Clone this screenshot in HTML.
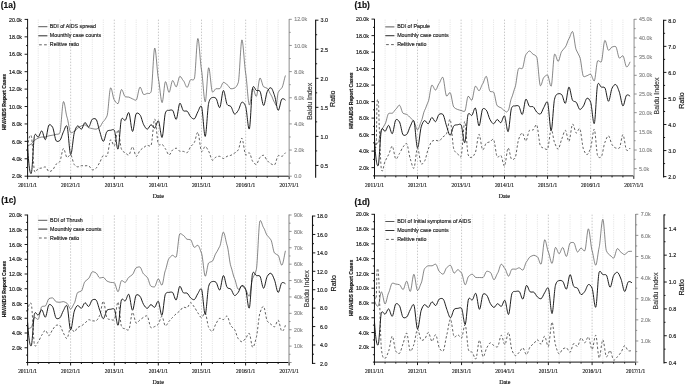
<!DOCTYPE html><html><head><meta charset="utf-8"><style>html,body{margin:0;padding:0;background:#fff}svg{display:block;filter:grayscale(1)}text{font-family:"Liberation Sans",sans-serif;stroke-width:0.16px}text.s{font-family:"Liberation Serif",serif}</style></head><body>
<svg width="685" height="385" viewBox="0 0 685 385">
<rect width="685" height="385" fill="#fff"/>
<line x1="38.22" y1="19.60" x2="38.22" y2="176.20" stroke="#d4d4d4" stroke-width="0.60" stroke-dasharray="1.1 1.1"/>
<line x1="48.95" y1="19.60" x2="48.95" y2="176.20" stroke="#d4d4d4" stroke-width="0.60" stroke-dasharray="1.1 1.1"/>
<line x1="59.80" y1="19.60" x2="59.80" y2="176.20" stroke="#d4d4d4" stroke-width="0.60" stroke-dasharray="1.1 1.1"/>
<line x1="70.65" y1="19.60" x2="70.65" y2="176.20" stroke="#b2b2b2" stroke-width="0.70" stroke-dasharray="1.5 1.5"/>
<line x1="81.41" y1="19.60" x2="81.41" y2="176.20" stroke="#d4d4d4" stroke-width="0.60" stroke-dasharray="1.1 1.1"/>
<line x1="92.30" y1="19.60" x2="92.30" y2="176.20" stroke="#d4d4d4" stroke-width="0.60" stroke-dasharray="1.1 1.1"/>
<line x1="103.30" y1="19.60" x2="103.30" y2="176.20" stroke="#d4d4d4" stroke-width="0.60" stroke-dasharray="1.1 1.1"/>
<line x1="114.30" y1="19.60" x2="114.30" y2="176.20" stroke="#b2b2b2" stroke-width="0.70" stroke-dasharray="1.5 1.5"/>
<line x1="125.19" y1="19.60" x2="125.19" y2="176.20" stroke="#d4d4d4" stroke-width="0.60" stroke-dasharray="1.1 1.1"/>
<line x1="136.19" y1="19.60" x2="136.19" y2="176.20" stroke="#d4d4d4" stroke-width="0.60" stroke-dasharray="1.1 1.1"/>
<line x1="147.32" y1="19.60" x2="147.32" y2="176.20" stroke="#d4d4d4" stroke-width="0.60" stroke-dasharray="1.1 1.1"/>
<line x1="158.45" y1="19.60" x2="158.45" y2="176.20" stroke="#b2b2b2" stroke-width="0.70" stroke-dasharray="1.5 1.5"/>
<line x1="169.07" y1="19.60" x2="169.07" y2="176.20" stroke="#d4d4d4" stroke-width="0.60" stroke-dasharray="1.1 1.1"/>
<line x1="179.80" y1="19.60" x2="179.80" y2="176.20" stroke="#d4d4d4" stroke-width="0.60" stroke-dasharray="1.1 1.1"/>
<line x1="190.65" y1="19.60" x2="190.65" y2="176.20" stroke="#d4d4d4" stroke-width="0.60" stroke-dasharray="1.1 1.1"/>
<line x1="201.50" y1="19.60" x2="201.50" y2="176.20" stroke="#b2b2b2" stroke-width="0.70" stroke-dasharray="1.5 1.5"/>
<line x1="212.39" y1="19.60" x2="212.39" y2="176.20" stroke="#d4d4d4" stroke-width="0.60" stroke-dasharray="1.1 1.1"/>
<line x1="223.39" y1="19.60" x2="223.39" y2="176.20" stroke="#d4d4d4" stroke-width="0.60" stroke-dasharray="1.1 1.1"/>
<line x1="234.52" y1="19.60" x2="234.52" y2="176.20" stroke="#d4d4d4" stroke-width="0.60" stroke-dasharray="1.1 1.1"/>
<line x1="245.65" y1="19.60" x2="245.65" y2="176.20" stroke="#b2b2b2" stroke-width="0.70" stroke-dasharray="1.5 1.5"/>
<line x1="256.38" y1="19.60" x2="256.38" y2="176.20" stroke="#d4d4d4" stroke-width="0.60" stroke-dasharray="1.1 1.1"/>
<line x1="267.22" y1="19.60" x2="267.22" y2="176.20" stroke="#d4d4d4" stroke-width="0.60" stroke-dasharray="1.1 1.1"/>
<line x1="278.19" y1="19.60" x2="278.19" y2="176.20" stroke="#d4d4d4" stroke-width="0.60" stroke-dasharray="1.1 1.1"/>
<path d="M27.60 147.00C28.82 137.48 30.04 133.63 31.26 135.80C32.36 137.76 33.46 168.82 34.56 171.30C35.78 174.04 37.00 168.98 38.22 168.60C39.39 168.24 40.57 168.22 41.75 168.00C42.97 167.78 44.19 166.73 45.41 167.00C46.59 167.26 47.77 171.28 48.95 171.50C50.17 171.73 51.39 170.86 52.60 170.00C53.82 169.14 55.04 165.21 56.26 164.10C57.44 163.03 58.62 163.25 59.80 161.60C61.02 159.89 62.24 148.74 63.46 148.50C64.63 148.26 65.81 157.03 66.99 157.50C68.21 157.98 69.43 154.31 70.65 154.80C71.89 155.30 73.12 163.30 74.36 164.70C75.47 165.96 76.59 166.81 77.71 166.90C78.94 167.00 80.18 165.78 81.41 165.70C82.61 165.63 83.80 165.79 85.00 165.80C86.24 165.81 87.47 165.49 88.71 165.80C89.90 166.10 91.10 169.71 92.30 169.90C93.53 170.09 94.77 169.18 96.00 168.30C97.24 167.42 98.47 164.34 99.71 162.50C100.91 160.72 102.10 155.97 103.30 155.50C104.53 155.01 105.77 157.17 107.01 156.00C108.20 154.87 109.40 140.56 110.59 139.80C111.83 139.01 113.06 146.48 114.30 145.80C115.55 145.11 116.80 129.39 118.05 129.90C119.18 130.36 120.31 146.63 121.44 149.10C122.69 151.83 123.94 151.98 125.19 152.80C126.40 153.59 127.61 155.39 128.82 155.00C130.06 154.60 131.31 146.76 132.56 146.90C133.77 147.04 134.98 156.11 136.19 156.40C137.44 156.70 138.69 151.80 139.94 150.60C141.19 149.40 142.44 148.25 143.69 147.50C144.90 146.77 146.11 145.46 147.32 145.30C148.57 145.14 149.82 147.26 151.07 145.30C152.28 143.41 153.49 119.19 154.70 119.00C155.95 118.80 157.20 142.37 158.45 144.20C159.67 145.99 160.89 143.97 162.11 144.40C163.21 144.79 164.31 147.40 165.41 148.80C166.63 150.35 167.85 154.94 169.07 155.00C170.24 155.06 171.42 150.85 172.60 150.00C173.82 149.12 175.04 148.10 176.26 148.20C177.44 148.29 178.62 150.92 179.80 151.20C181.02 151.49 182.24 151.24 183.45 151.40C184.67 151.56 185.89 153.06 187.11 152.70C188.29 152.36 189.47 148.10 190.65 146.70C191.87 145.25 193.09 144.40 194.31 142.50C195.48 140.66 196.66 131.75 197.84 132.30C199.06 132.87 200.28 150.36 201.50 151.40C202.75 152.46 204.00 146.44 205.25 146.50C206.38 146.55 207.51 149.46 208.64 151.20C209.89 153.12 211.14 159.81 212.39 160.20C213.60 160.58 214.81 157.44 216.02 157.00C217.26 156.55 218.51 156.19 219.76 156.30C220.97 156.41 222.18 158.49 223.39 158.50C224.64 158.51 225.89 156.72 227.14 156.30C228.39 155.88 229.64 155.73 230.89 155.30C232.10 154.88 233.31 153.84 234.52 153.10C235.77 152.34 237.02 151.71 238.27 149.90C239.48 148.15 240.69 137.92 241.90 138.20C243.15 138.49 244.40 153.78 245.65 154.80C246.88 155.81 248.11 152.23 249.34 152.80C250.46 153.32 251.57 159.99 252.68 161.40C253.91 162.96 255.14 164.71 256.38 164.40C257.57 164.10 258.76 158.49 259.95 157.40C261.18 156.27 262.41 155.05 263.65 155.30C264.84 155.54 266.03 159.45 267.22 160.60C268.45 161.79 269.68 163.29 270.92 163.80C272.15 164.31 273.38 165.41 274.61 164.80C275.80 164.21 276.99 156.31 278.19 155.70C279.42 155.06 280.65 156.53 281.88 156.30C283.07 156.08 284.26 154.30 285.46 152.70" fill="none" stroke="#3e3e3e" stroke-width="0.82" stroke-dasharray="2.3 2" stroke-linejoin="round"/>
<path d="M27.60 145.80C28.82 145.68 30.04 144.55 31.26 144.00C32.36 143.50 33.46 140.85 34.56 140.30C35.78 139.69 37.00 138.42 38.22 138.10C39.39 137.79 40.57 137.06 41.75 137.00C42.97 136.94 44.19 137.06 45.41 137.00C46.59 136.94 47.77 135.97 48.95 135.80C50.17 135.63 51.39 135.35 52.60 135.20C53.82 135.05 55.04 134.52 56.26 134.30C57.44 134.09 58.62 134.81 59.80 133.00C61.02 131.13 62.24 102.33 63.46 101.60C64.63 100.89 65.81 114.06 66.99 117.10C68.21 120.24 69.43 131.78 70.65 132.50C71.89 133.23 73.12 131.81 74.36 131.40C75.47 131.03 76.59 128.62 77.71 128.10C78.94 127.53 80.18 126.22 81.41 125.90C82.61 125.59 83.80 124.72 85.00 124.80C86.24 124.88 87.47 127.37 88.71 127.70C89.90 128.02 91.10 128.46 92.30 128.60C93.53 128.75 94.77 129.28 96.00 129.20C97.24 129.12 98.47 127.71 99.71 127.00C100.91 126.31 102.10 122.58 103.30 121.50C104.53 120.38 105.77 118.67 107.01 116.00C108.20 113.41 109.40 88.75 110.59 87.90C111.83 87.02 113.06 98.66 114.30 100.00C115.55 101.35 116.80 104.24 118.05 103.60C119.18 103.02 120.31 90.03 121.44 89.60C122.69 89.12 123.94 96.25 125.19 96.70C126.40 97.13 127.61 96.93 128.82 97.10C130.06 97.28 131.31 98.60 132.56 98.90C133.77 99.19 134.98 100.65 136.19 100.10C137.44 99.53 138.69 87.48 139.94 87.20C141.19 86.92 142.44 94.20 143.69 94.50C144.90 94.79 146.11 93.66 147.32 93.40C148.57 93.13 149.82 94.48 151.07 91.80C152.28 89.20 153.49 48.85 154.70 48.10C155.95 47.32 157.20 73.54 158.45 79.00C159.67 84.33 160.89 102.70 162.11 102.60C163.21 102.51 164.31 82.34 165.41 81.70C166.63 80.99 167.85 92.39 169.07 92.30C170.24 92.21 171.42 80.90 172.60 80.60C173.82 80.29 175.04 87.04 176.26 86.80C177.44 86.57 178.62 76.72 179.80 76.40C181.02 76.07 182.24 79.72 183.45 80.80C184.67 81.88 185.89 87.48 187.11 87.40C188.29 87.32 189.47 80.29 190.65 79.70C191.87 79.09 193.09 81.14 194.31 78.80C195.48 76.54 196.66 39.05 197.84 38.50C199.06 37.93 200.28 63.75 201.50 70.00C202.75 76.41 204.00 102.27 205.25 101.80C206.38 101.38 207.51 68.55 208.64 67.80C209.89 66.97 211.14 90.88 212.39 91.90C213.60 92.88 214.81 88.86 216.02 88.70C217.26 88.53 218.51 89.03 219.76 88.70C220.97 88.38 222.18 82.62 223.39 82.40C224.64 82.18 225.89 83.99 227.14 84.60C228.39 85.21 229.64 88.64 230.89 88.80C232.10 88.96 233.31 88.44 234.52 88.00C235.77 87.55 237.02 86.07 238.27 82.60C239.48 79.24 240.69 40.49 241.90 39.90C243.15 39.29 244.40 66.54 245.65 73.10C246.88 79.56 248.11 104.45 249.34 105.00C250.46 105.50 251.57 88.93 252.68 88.40C253.91 87.81 255.14 96.87 256.38 96.30C257.57 95.75 258.76 78.61 259.95 78.10C261.18 77.57 262.41 86.03 263.65 86.80C264.84 87.54 266.03 87.67 267.22 88.30C268.45 88.95 269.68 93.38 270.92 94.80C272.15 96.22 273.38 101.22 274.61 102.60C275.15 103.20 275.68 105.72 276.22 105.40C276.87 105.01 277.53 93.88 278.19 92.50C279.42 89.91 280.65 89.37 281.88 87.80C283.07 86.29 284.26 78.72 285.46 75.50" fill="none" stroke="#484848" stroke-width="0.66" stroke-linejoin="round"/>
<path d="M27.60 145.80C28.82 167.21 30.04 174.91 31.26 173.41C32.36 172.06 33.46 138.64 34.56 135.44C35.78 131.89 37.00 137.59 38.22 137.18C39.39 136.79 40.57 130.75 41.75 130.91C42.97 131.07 44.19 140.18 45.41 139.62C46.59 139.08 47.77 126.13 48.95 125.07C50.17 123.98 51.39 125.30 52.60 127.25C53.82 129.20 55.04 139.84 56.26 140.92C57.44 141.97 58.62 141.35 59.80 140.49C61.02 139.60 62.24 134.15 63.46 131.78C64.63 129.48 65.81 124.34 66.99 126.12C68.21 127.96 69.43 154.01 70.65 154.60C71.89 155.19 73.12 136.69 74.36 132.48C75.47 128.67 76.59 126.20 77.71 125.86C78.94 125.48 80.18 129.47 81.41 129.17C82.61 128.87 83.80 122.75 85.00 122.55C86.24 122.33 87.47 127.30 88.71 126.99C89.90 126.68 91.10 119.89 92.30 119.24C93.53 118.56 94.77 118.22 96.00 119.24C97.24 120.25 98.47 127.71 99.71 131.43C100.91 135.04 102.10 141.31 103.30 141.36C104.53 141.42 105.77 132.69 107.01 131.43C108.20 130.21 109.40 130.39 110.59 130.30C111.83 130.20 113.06 128.76 114.30 130.30C115.55 131.86 116.80 150.52 118.05 149.11C119.18 147.84 120.31 121.77 121.44 119.24C122.69 116.43 123.94 120.95 125.19 120.37C126.40 119.80 127.61 111.78 128.82 112.62C130.06 113.48 131.31 131.44 132.56 131.43C133.77 131.42 134.98 115.08 136.19 113.66C137.44 112.20 138.69 113.53 139.94 114.79C141.19 116.06 142.44 122.48 143.69 124.72C144.90 126.90 146.11 129.14 147.32 129.17C148.57 129.19 149.82 124.80 151.07 124.72C152.28 124.65 153.49 128.32 154.70 128.03C155.95 127.74 157.20 120.05 158.45 120.89C159.67 121.71 160.89 138.51 162.11 137.44C163.21 136.47 164.31 115.92 165.41 112.88C166.63 109.52 167.85 110.56 169.07 110.35C170.24 110.15 171.42 109.64 172.60 110.35C173.82 111.09 175.04 119.99 176.26 119.32C177.44 118.68 178.62 104.06 179.80 103.30C181.02 102.51 182.24 109.99 183.45 110.79C184.67 111.59 185.89 110.56 187.11 111.22C188.29 111.86 189.47 115.66 190.65 116.80C191.87 117.97 193.09 119.33 194.31 118.89C195.48 118.46 196.66 113.84 197.84 111.83C199.06 109.75 200.28 104.57 201.50 106.52C202.75 108.52 204.00 137.24 205.25 136.40C206.38 135.63 207.51 108.12 208.64 103.30C209.89 97.96 211.14 97.94 212.39 97.55C213.60 97.17 214.81 97.36 216.02 98.42C217.26 99.52 218.51 108.31 219.76 107.57C220.97 106.84 222.18 90.83 223.39 90.49C224.64 90.14 225.89 102.49 227.14 104.43C228.39 106.37 229.64 105.14 230.89 106.52C232.10 107.85 233.31 113.67 234.52 114.01C235.77 114.37 237.02 112.21 238.27 110.35C239.48 108.55 240.69 102.60 241.90 102.25C243.15 101.89 244.40 103.06 245.65 106.52C246.88 109.93 248.11 131.12 249.34 128.90C250.46 126.90 251.57 91.20 252.68 87.79C253.91 84.02 255.14 90.02 256.38 90.49C257.57 90.95 258.76 89.78 259.95 91.19C261.18 92.65 262.41 105.52 263.65 105.47C264.84 105.43 266.03 94.08 267.22 91.63C268.45 89.09 269.68 87.44 270.92 87.79C272.15 88.15 273.38 92.21 274.61 95.89C275.80 99.46 276.99 110.03 278.19 110.35C279.42 110.69 280.65 99.86 281.88 99.03C283.07 98.23 284.26 99.03 285.46 100.16" fill="none" stroke="#111" stroke-width="0.95" stroke-linejoin="round"/>
<line x1="27.60" y1="18.90" x2="27.60" y2="176.70" stroke="#111" stroke-width="1.00"/>
<line x1="27.10" y1="176.20" x2="289.15" y2="176.20" stroke="#111" stroke-width="1.00"/>
<line x1="24.60" y1="176.20" x2="27.60" y2="176.20" stroke="#111" stroke-width="0.95"/>
<text transform="translate(22.00 178.35) scale(0.870 1)" text-anchor="end" font-size="6.10" fill="#111" stroke="#111">2.0k</text>
<line x1="26.10" y1="167.49" x2="27.60" y2="167.49" stroke="#111" stroke-width="0.95"/>
<line x1="24.60" y1="158.78" x2="27.60" y2="158.78" stroke="#111" stroke-width="0.95"/>
<text transform="translate(22.00 160.93) scale(0.870 1)" text-anchor="end" font-size="6.10" fill="#111" stroke="#111">4.0k</text>
<line x1="26.10" y1="150.07" x2="27.60" y2="150.07" stroke="#111" stroke-width="0.95"/>
<line x1="24.60" y1="141.36" x2="27.60" y2="141.36" stroke="#111" stroke-width="0.95"/>
<text transform="translate(22.00 143.51) scale(0.870 1)" text-anchor="end" font-size="6.10" fill="#111" stroke="#111">6.0k</text>
<line x1="26.10" y1="132.65" x2="27.60" y2="132.65" stroke="#111" stroke-width="0.95"/>
<line x1="24.60" y1="123.94" x2="27.60" y2="123.94" stroke="#111" stroke-width="0.95"/>
<text transform="translate(22.00 126.09) scale(0.870 1)" text-anchor="end" font-size="6.10" fill="#111" stroke="#111">8.0k</text>
<line x1="26.10" y1="115.23" x2="27.60" y2="115.23" stroke="#111" stroke-width="0.95"/>
<line x1="24.60" y1="106.52" x2="27.60" y2="106.52" stroke="#111" stroke-width="0.95"/>
<text transform="translate(22.00 108.67) scale(0.870 1)" text-anchor="end" font-size="6.10" fill="#111" stroke="#111">10.0k</text>
<line x1="26.10" y1="97.81" x2="27.60" y2="97.81" stroke="#111" stroke-width="0.95"/>
<line x1="24.60" y1="89.10" x2="27.60" y2="89.10" stroke="#111" stroke-width="0.95"/>
<text transform="translate(22.00 91.25) scale(0.870 1)" text-anchor="end" font-size="6.10" fill="#111" stroke="#111">12.0k</text>
<line x1="26.10" y1="80.39" x2="27.60" y2="80.39" stroke="#111" stroke-width="0.95"/>
<line x1="24.60" y1="71.68" x2="27.60" y2="71.68" stroke="#111" stroke-width="0.95"/>
<text transform="translate(22.00 73.83) scale(0.870 1)" text-anchor="end" font-size="6.10" fill="#111" stroke="#111">14.0k</text>
<line x1="26.10" y1="62.97" x2="27.60" y2="62.97" stroke="#111" stroke-width="0.95"/>
<line x1="24.60" y1="54.26" x2="27.60" y2="54.26" stroke="#111" stroke-width="0.95"/>
<text transform="translate(22.00 56.41) scale(0.870 1)" text-anchor="end" font-size="6.10" fill="#111" stroke="#111">16.0k</text>
<line x1="26.10" y1="45.55" x2="27.60" y2="45.55" stroke="#111" stroke-width="0.95"/>
<line x1="24.60" y1="36.84" x2="27.60" y2="36.84" stroke="#111" stroke-width="0.95"/>
<text transform="translate(22.00 38.99) scale(0.870 1)" text-anchor="end" font-size="6.10" fill="#111" stroke="#111">18.0k</text>
<line x1="26.10" y1="28.13" x2="27.60" y2="28.13" stroke="#111" stroke-width="0.95"/>
<line x1="24.60" y1="19.42" x2="27.60" y2="19.42" stroke="#111" stroke-width="0.95"/>
<text transform="translate(22.00 21.57) scale(0.870 1)" text-anchor="end" font-size="6.10" fill="#111" stroke="#111">20.0k</text>
<line x1="27.60" y1="176.20" x2="27.60" y2="179.20" stroke="#111" stroke-width="0.95"/>
<text transform="translate(27.60 187.10) scale(0.870 1)" text-anchor="middle" class="s" font-size="6.20" fill="#111" stroke="#111">2011/1/1</text>
<line x1="38.22" y1="176.20" x2="38.22" y2="177.70" stroke="#111" stroke-width="0.95"/>
<line x1="48.95" y1="176.20" x2="48.95" y2="177.70" stroke="#111" stroke-width="0.95"/>
<line x1="59.80" y1="176.20" x2="59.80" y2="177.70" stroke="#111" stroke-width="0.95"/>
<line x1="70.65" y1="176.20" x2="70.65" y2="179.20" stroke="#111" stroke-width="0.95"/>
<text transform="translate(70.65 187.10) scale(0.870 1)" text-anchor="middle" class="s" font-size="6.20" fill="#111" stroke="#111">2012/1/1</text>
<line x1="81.41" y1="176.20" x2="81.41" y2="177.70" stroke="#111" stroke-width="0.95"/>
<line x1="92.30" y1="176.20" x2="92.30" y2="177.70" stroke="#111" stroke-width="0.95"/>
<line x1="103.30" y1="176.20" x2="103.30" y2="177.70" stroke="#111" stroke-width="0.95"/>
<line x1="114.30" y1="176.20" x2="114.30" y2="179.20" stroke="#111" stroke-width="0.95"/>
<text transform="translate(114.30 187.10) scale(0.870 1)" text-anchor="middle" class="s" font-size="6.20" fill="#111" stroke="#111">2013/1/1</text>
<line x1="125.19" y1="176.20" x2="125.19" y2="177.70" stroke="#111" stroke-width="0.95"/>
<line x1="136.19" y1="176.20" x2="136.19" y2="177.70" stroke="#111" stroke-width="0.95"/>
<line x1="147.32" y1="176.20" x2="147.32" y2="177.70" stroke="#111" stroke-width="0.95"/>
<line x1="158.45" y1="176.20" x2="158.45" y2="179.20" stroke="#111" stroke-width="0.95"/>
<text transform="translate(158.45 187.10) scale(0.870 1)" text-anchor="middle" class="s" font-size="6.20" fill="#111" stroke="#111">2014/1/1</text>
<line x1="169.07" y1="176.20" x2="169.07" y2="177.70" stroke="#111" stroke-width="0.95"/>
<line x1="179.80" y1="176.20" x2="179.80" y2="177.70" stroke="#111" stroke-width="0.95"/>
<line x1="190.65" y1="176.20" x2="190.65" y2="177.70" stroke="#111" stroke-width="0.95"/>
<line x1="201.50" y1="176.20" x2="201.50" y2="179.20" stroke="#111" stroke-width="0.95"/>
<text transform="translate(201.50 187.10) scale(0.870 1)" text-anchor="middle" class="s" font-size="6.20" fill="#111" stroke="#111">2015/1/1</text>
<line x1="212.39" y1="176.20" x2="212.39" y2="177.70" stroke="#111" stroke-width="0.95"/>
<line x1="223.39" y1="176.20" x2="223.39" y2="177.70" stroke="#111" stroke-width="0.95"/>
<line x1="234.52" y1="176.20" x2="234.52" y2="177.70" stroke="#111" stroke-width="0.95"/>
<line x1="245.65" y1="176.20" x2="245.65" y2="179.20" stroke="#111" stroke-width="0.95"/>
<text transform="translate(245.65 187.10) scale(0.870 1)" text-anchor="middle" class="s" font-size="6.20" fill="#111" stroke="#111">2016/1/1</text>
<line x1="256.38" y1="176.20" x2="256.38" y2="177.70" stroke="#111" stroke-width="0.95"/>
<line x1="267.22" y1="176.20" x2="267.22" y2="177.70" stroke="#111" stroke-width="0.95"/>
<line x1="278.19" y1="176.20" x2="278.19" y2="177.70" stroke="#111" stroke-width="0.95"/>
<line x1="289.15" y1="176.20" x2="289.15" y2="179.20" stroke="#111" stroke-width="0.95"/>
<text transform="translate(289.15 187.10) scale(0.870 1)" text-anchor="middle" class="s" font-size="6.20" fill="#111" stroke="#111">2017/1/1</text>
<text x="158.30" y="198.40" text-anchor="middle" class="s" font-size="6.00" fill="#111" stroke="#111">Date</text>
<line x1="289.20" y1="18.90" x2="289.20" y2="176.60" stroke="#b4b4b4" stroke-width="1.50"/>
<line x1="289.20" y1="176.20" x2="291.80" y2="176.20" stroke="#777" stroke-width="0.80"/>
<text transform="translate(294.20 178.35) scale(0.870 1)" font-size="6.10" fill="#888" stroke="#888">0.0</text>
<line x1="289.20" y1="163.12" x2="290.70" y2="163.12" stroke="#777" stroke-width="0.80"/>
<line x1="289.20" y1="150.05" x2="291.80" y2="150.05" stroke="#777" stroke-width="0.80"/>
<text transform="translate(294.20 152.20) scale(0.870 1)" font-size="6.10" fill="#888" stroke="#888">2.0k</text>
<line x1="289.20" y1="136.97" x2="290.70" y2="136.97" stroke="#777" stroke-width="0.80"/>
<line x1="289.20" y1="123.90" x2="291.80" y2="123.90" stroke="#777" stroke-width="0.80"/>
<text transform="translate(294.20 126.05) scale(0.870 1)" font-size="6.10" fill="#888" stroke="#888">4.0k</text>
<line x1="289.20" y1="110.82" x2="290.70" y2="110.82" stroke="#777" stroke-width="0.80"/>
<line x1="289.20" y1="97.75" x2="291.80" y2="97.75" stroke="#777" stroke-width="0.80"/>
<text transform="translate(294.20 99.90) scale(0.870 1)" font-size="6.10" fill="#888" stroke="#888">6.0k</text>
<line x1="289.20" y1="84.67" x2="290.70" y2="84.67" stroke="#777" stroke-width="0.80"/>
<line x1="289.20" y1="71.60" x2="291.80" y2="71.60" stroke="#777" stroke-width="0.80"/>
<text transform="translate(294.20 73.75) scale(0.870 1)" font-size="6.10" fill="#888" stroke="#888">8.0k</text>
<line x1="289.20" y1="58.52" x2="290.70" y2="58.52" stroke="#777" stroke-width="0.80"/>
<line x1="289.20" y1="45.45" x2="291.80" y2="45.45" stroke="#777" stroke-width="0.80"/>
<text transform="translate(294.20 47.60) scale(0.870 1)" font-size="6.10" fill="#888" stroke="#888">10.0k</text>
<line x1="289.20" y1="32.38" x2="290.70" y2="32.38" stroke="#777" stroke-width="0.80"/>
<line x1="289.20" y1="19.30" x2="291.80" y2="19.30" stroke="#777" stroke-width="0.80"/>
<text transform="translate(294.20 21.45) scale(0.870 1)" font-size="6.10" fill="#888" stroke="#888">12.0k</text>
<line x1="315.65" y1="19.75" x2="315.65" y2="177.80" stroke="#111" stroke-width="1.10"/>
<line x1="315.65" y1="165.45" x2="318.45" y2="165.45" stroke="#111" stroke-width="0.95"/>
<text transform="translate(327.90 167.70) scale(0.870 1)" text-anchor="end" font-size="6.20" fill="#111" stroke="#111">0.5</text>
<line x1="315.65" y1="150.92" x2="317.15" y2="150.92" stroke="#111" stroke-width="0.95"/>
<line x1="315.65" y1="136.40" x2="318.45" y2="136.40" stroke="#111" stroke-width="0.95"/>
<text transform="translate(327.90 138.65) scale(0.870 1)" text-anchor="end" font-size="6.20" fill="#111" stroke="#111">1.0</text>
<line x1="315.65" y1="121.87" x2="317.15" y2="121.87" stroke="#111" stroke-width="0.95"/>
<line x1="315.65" y1="107.35" x2="318.45" y2="107.35" stroke="#111" stroke-width="0.95"/>
<text transform="translate(327.90 109.60) scale(0.870 1)" text-anchor="end" font-size="6.20" fill="#111" stroke="#111">1.5</text>
<line x1="315.65" y1="92.82" x2="317.15" y2="92.82" stroke="#111" stroke-width="0.95"/>
<line x1="315.65" y1="78.30" x2="318.45" y2="78.30" stroke="#111" stroke-width="0.95"/>
<text transform="translate(327.90 80.55) scale(0.870 1)" text-anchor="end" font-size="6.20" fill="#111" stroke="#111">2.0</text>
<line x1="315.65" y1="63.77" x2="317.15" y2="63.77" stroke="#111" stroke-width="0.95"/>
<line x1="315.65" y1="49.25" x2="318.45" y2="49.25" stroke="#111" stroke-width="0.95"/>
<text transform="translate(327.90 51.50) scale(0.870 1)" text-anchor="end" font-size="6.20" fill="#111" stroke="#111">2.5</text>
<line x1="315.65" y1="34.72" x2="317.15" y2="34.72" stroke="#111" stroke-width="0.95"/>
<line x1="315.65" y1="20.20" x2="318.45" y2="20.20" stroke="#111" stroke-width="0.95"/>
<text transform="translate(327.90 22.45) scale(0.870 1)" text-anchor="end" font-size="6.20" fill="#111" stroke="#111">3.0</text>
<text transform="translate(5.70 101.95) rotate(-90)" text-anchor="middle" font-weight="bold" font-size="5.10" fill="#111" stroke="#111">HIV/AIDS Report Cases</text>
<text transform="translate(311.70 101.35) rotate(-90)" text-anchor="middle" font-size="7.00" fill="#444" stroke="#444">Baidu Index</text>
<text transform="translate(335.40 98.75) rotate(-90)" text-anchor="middle" font-size="7.00" fill="#111" stroke="#111">Ratio</text>
<text x="0.80" y="8.00" font-weight="bold" font-size="8.40" fill="#111" stroke="#111">(1a)</text>
<line x1="38.30" y1="26.70" x2="47.40" y2="26.70" stroke="#484848" stroke-width="0.91"/>
<text x="49.80" y="28.25" font-size="5.32" fill="#222" stroke="#222">BDI of AIDS spread</text>
<line x1="38.30" y1="35.80" x2="47.40" y2="35.80" stroke="#333" stroke-width="1.05"/>
<text x="49.80" y="37.35" font-size="5.32" fill="#222" stroke="#222">Mounthly case counts</text>
<line x1="39.10" y1="44.80" x2="47.40" y2="44.80" stroke="#3e3e3e" stroke-width="0.82" stroke-dasharray="2.7 2.3"/>
<text x="49.80" y="46.35" font-size="5.32" fill="#222" stroke="#222">Relitive ratio</text>
<line x1="385.10" y1="19.60" x2="385.10" y2="175.90" stroke="#d4d4d4" stroke-width="0.60" stroke-dasharray="1.1 1.1"/>
<line x1="395.82" y1="19.60" x2="395.82" y2="175.90" stroke="#d4d4d4" stroke-width="0.60" stroke-dasharray="1.1 1.1"/>
<line x1="406.66" y1="19.60" x2="406.66" y2="175.90" stroke="#d4d4d4" stroke-width="0.60" stroke-dasharray="1.1 1.1"/>
<line x1="417.50" y1="19.60" x2="417.50" y2="175.90" stroke="#b2b2b2" stroke-width="0.70" stroke-dasharray="1.5 1.5"/>
<line x1="428.25" y1="19.60" x2="428.25" y2="175.90" stroke="#d4d4d4" stroke-width="0.60" stroke-dasharray="1.1 1.1"/>
<line x1="439.12" y1="19.60" x2="439.12" y2="175.90" stroke="#d4d4d4" stroke-width="0.60" stroke-dasharray="1.1 1.1"/>
<line x1="450.11" y1="19.60" x2="450.11" y2="175.90" stroke="#d4d4d4" stroke-width="0.60" stroke-dasharray="1.1 1.1"/>
<line x1="461.10" y1="19.60" x2="461.10" y2="175.90" stroke="#b2b2b2" stroke-width="0.70" stroke-dasharray="1.5 1.5"/>
<line x1="471.80" y1="19.60" x2="471.80" y2="175.90" stroke="#d4d4d4" stroke-width="0.60" stroke-dasharray="1.1 1.1"/>
<line x1="482.62" y1="19.60" x2="482.62" y2="175.90" stroke="#d4d4d4" stroke-width="0.60" stroke-dasharray="1.1 1.1"/>
<line x1="493.56" y1="19.60" x2="493.56" y2="175.90" stroke="#d4d4d4" stroke-width="0.60" stroke-dasharray="1.1 1.1"/>
<line x1="504.50" y1="19.60" x2="504.50" y2="175.90" stroke="#b2b2b2" stroke-width="0.70" stroke-dasharray="1.5 1.5"/>
<line x1="515.12" y1="19.60" x2="515.12" y2="175.90" stroke="#d4d4d4" stroke-width="0.60" stroke-dasharray="1.1 1.1"/>
<line x1="525.85" y1="19.60" x2="525.85" y2="175.90" stroke="#d4d4d4" stroke-width="0.60" stroke-dasharray="1.1 1.1"/>
<line x1="536.70" y1="19.60" x2="536.70" y2="175.90" stroke="#d4d4d4" stroke-width="0.60" stroke-dasharray="1.1 1.1"/>
<line x1="547.55" y1="19.60" x2="547.55" y2="175.90" stroke="#b2b2b2" stroke-width="0.70" stroke-dasharray="1.5 1.5"/>
<line x1="558.18" y1="19.60" x2="558.18" y2="175.90" stroke="#d4d4d4" stroke-width="0.60" stroke-dasharray="1.1 1.1"/>
<line x1="568.92" y1="19.60" x2="568.92" y2="175.90" stroke="#d4d4d4" stroke-width="0.60" stroke-dasharray="1.1 1.1"/>
<line x1="579.79" y1="19.60" x2="579.79" y2="175.90" stroke="#d4d4d4" stroke-width="0.60" stroke-dasharray="1.1 1.1"/>
<line x1="590.65" y1="19.60" x2="590.65" y2="175.90" stroke="#b2b2b2" stroke-width="0.70" stroke-dasharray="1.5 1.5"/>
<line x1="601.29" y1="19.60" x2="601.29" y2="175.90" stroke="#d4d4d4" stroke-width="0.60" stroke-dasharray="1.1 1.1"/>
<line x1="612.05" y1="19.60" x2="612.05" y2="175.90" stroke="#d4d4d4" stroke-width="0.60" stroke-dasharray="1.1 1.1"/>
<line x1="622.92" y1="19.60" x2="622.92" y2="175.90" stroke="#d4d4d4" stroke-width="0.60" stroke-dasharray="1.1 1.1"/>
<path d="M374.50 142.50C375.11 142.50 375.72 155.25 376.33 141.50C376.42 139.30 376.52 128.97 376.62 124.00C376.72 119.03 376.81 109.00 376.91 106.40C377.20 98.59 377.49 99.67 377.79 99.60C377.91 99.57 378.03 99.96 378.15 100.50C378.32 101.23 378.48 103.48 378.65 106.40C378.81 109.32 378.98 119.81 379.14 124.00C379.91 143.58 380.68 165.93 381.45 169.60C382.67 175.40 383.89 163.34 385.10 161.20C386.28 159.13 387.46 156.67 388.64 154.60C389.85 152.46 391.07 145.83 392.29 146.20C393.47 146.56 394.65 158.45 395.82 159.00C397.04 159.57 398.26 155.21 399.48 153.50C400.69 151.79 401.91 148.24 403.13 146.90C404.31 145.60 405.48 142.80 406.66 143.60C407.88 144.43 409.10 155.56 410.31 159.00C411.49 162.33 412.67 169.00 413.85 168.30C415.07 167.58 416.28 148.34 417.50 148.00C418.73 147.65 419.97 163.05 421.20 163.90C422.32 164.66 423.43 162.74 424.55 161.20C425.78 159.49 427.02 151.87 428.25 149.10C429.45 146.42 430.64 142.29 431.83 141.40C433.07 140.48 434.30 140.33 435.54 140.30C436.73 140.27 437.93 141.12 439.12 140.90C440.36 140.67 441.59 138.03 442.82 137.00C444.06 135.97 445.29 135.69 446.53 133.60C447.72 131.58 448.92 118.32 450.11 119.30C451.34 120.31 452.58 145.58 453.81 149.10C455.01 152.50 456.20 152.50 457.40 153.50C458.63 154.53 459.87 158.68 461.10 156.40C462.33 154.13 463.56 121.12 464.79 121.50C465.90 121.84 467.01 151.32 468.12 154.60C469.34 158.23 470.57 157.48 471.80 157.30C472.99 157.13 474.18 155.05 475.37 152.40C476.60 149.66 477.83 134.41 479.05 134.30C480.24 134.20 481.43 149.14 482.62 149.80C483.85 150.49 485.08 143.98 486.31 143.10C487.54 142.22 488.77 142.31 489.99 141.80C491.18 141.31 492.37 138.39 493.56 139.40C494.79 140.45 496.02 155.90 497.25 157.00C498.44 158.06 499.62 154.69 500.81 155.30C502.04 155.93 503.27 166.64 504.50 166.10C505.72 165.57 506.94 148.31 508.16 148.00C509.26 147.72 510.36 158.25 511.46 159.00C512.68 159.83 513.90 159.66 515.12 157.90C516.29 156.19 517.47 142.26 518.65 139.20C519.87 136.04 521.09 132.84 522.31 133.00C523.49 133.15 524.67 141.05 525.85 140.90C527.07 140.75 528.29 131.19 529.50 130.30C530.72 129.41 531.94 130.41 533.16 129.90C534.34 129.40 535.52 123.75 536.70 124.80C537.92 125.88 539.14 143.59 540.36 145.80C541.53 147.93 542.71 147.56 543.89 148.00C545.11 148.45 546.33 150.43 547.55 149.10C548.77 147.77 549.99 129.44 551.21 129.20C552.31 128.98 553.41 139.94 554.52 142.50C555.74 145.34 556.96 149.38 558.18 149.10C559.36 148.83 560.54 141.82 561.72 139.20C562.94 136.49 564.16 130.09 565.38 130.30C566.56 130.50 567.74 141.77 568.92 141.40C570.14 141.02 571.36 124.69 572.58 124.10C573.80 123.50 575.02 132.71 576.24 133.00C577.42 133.28 578.61 127.53 579.79 128.60C581.01 129.70 582.23 146.01 583.45 149.10C584.63 152.09 585.81 154.65 586.99 154.60C588.21 154.55 589.43 151.18 590.65 148.00C591.87 144.82 593.09 128.28 594.31 129.20C595.42 130.03 596.52 153.39 597.62 155.70C598.85 158.26 600.07 157.79 601.29 156.80C602.47 155.84 603.65 145.25 604.84 142.50C606.06 139.66 607.28 135.60 608.50 135.80C609.68 135.99 610.87 143.17 612.05 144.70C613.27 146.28 614.49 147.77 615.71 148.00C616.93 148.23 618.16 148.99 619.38 148.00C620.56 147.04 621.74 134.61 622.92 134.70C624.15 134.79 625.37 149.28 626.59 150.20C627.77 151.09 628.95 149.87 630.14 148.00" fill="none" stroke="#3e3e3e" stroke-width="0.82" stroke-dasharray="2.3 2" stroke-linejoin="round"/>
<path d="M374.50 144.70C375.72 144.70 376.93 143.70 378.15 142.50C379.25 141.42 380.35 131.99 381.45 130.30C382.67 128.43 383.89 125.66 385.10 124.00C386.28 122.39 387.46 114.10 388.64 113.50C389.85 112.88 391.07 113.48 392.29 113.20C393.47 112.93 394.65 109.99 395.82 109.20C397.04 108.39 398.26 105.00 399.48 105.20C400.69 105.41 401.91 112.65 403.13 113.30C404.31 113.93 405.48 114.03 406.66 114.40C407.88 114.78 409.10 116.88 410.31 117.60C411.49 118.30 412.67 120.38 413.85 121.50C415.07 122.66 416.28 129.89 417.50 129.90C418.73 129.91 419.97 123.54 421.20 121.50C422.32 119.66 423.43 112.39 424.55 110.50C425.78 108.41 427.02 104.07 428.25 101.60C429.45 99.21 430.64 85.80 431.83 85.20C433.07 84.58 434.30 90.21 435.54 90.10C436.73 89.99 437.93 84.66 439.12 83.40C440.36 82.10 441.59 76.67 442.82 77.30C444.06 77.93 445.29 95.26 446.53 96.00C447.72 96.72 448.92 92.08 450.11 92.60C451.34 93.13 452.58 105.86 453.81 107.10C455.01 108.30 456.20 109.08 457.40 109.40C458.63 109.73 459.87 110.32 461.10 110.50C462.33 110.68 463.56 112.03 464.79 111.20C465.90 110.45 467.01 96.92 468.12 96.30C469.34 95.62 470.57 100.74 471.80 100.20C472.99 99.67 474.18 86.70 475.37 86.20C476.60 85.69 477.83 90.84 479.05 90.70C480.24 90.57 481.43 85.30 482.62 83.90C483.85 82.45 485.08 76.03 486.31 76.40C487.54 76.77 488.77 90.37 489.99 91.30C491.18 92.20 492.37 91.26 493.56 92.10C494.79 92.97 496.02 104.68 497.25 105.80C498.44 106.88 499.62 107.23 500.81 107.70C502.04 108.18 503.27 110.20 504.50 110.70C505.23 111.00 505.96 112.07 506.69 112.00C507.18 111.95 507.67 111.07 508.16 110.60C509.26 109.53 510.36 100.43 511.46 98.20C512.68 95.73 513.90 90.13 515.12 87.20C516.29 84.37 517.47 69.45 518.65 68.50C519.87 67.52 521.09 69.22 522.31 68.50C523.49 67.80 524.67 56.15 525.85 54.70C527.07 53.20 528.29 51.02 529.50 51.00C530.72 50.98 531.94 53.69 533.16 54.30C534.34 54.89 535.52 55.01 536.70 57.00C537.92 59.06 539.14 84.73 540.36 85.70C541.53 86.64 542.71 78.17 543.89 77.30C545.11 76.40 546.33 74.66 547.55 75.10C548.77 75.54 549.99 87.43 551.21 86.10C552.31 84.90 553.41 55.67 554.52 54.30C555.74 52.79 556.96 61.58 558.18 61.40C559.36 61.23 560.54 52.72 561.72 51.40C562.94 50.04 564.16 48.23 565.38 47.00C566.56 45.81 567.74 40.31 568.92 38.80C570.14 37.24 571.36 31.05 572.58 31.60C573.80 32.16 575.02 47.58 576.24 49.90C577.42 52.14 578.61 54.69 579.79 57.00C581.01 59.39 582.23 75.48 583.45 76.40C584.63 77.29 585.81 75.90 586.99 75.70C588.21 75.49 589.43 73.95 590.65 74.20C591.87 74.45 593.09 81.64 594.31 80.80C595.42 80.04 596.52 61.91 597.62 60.90C598.85 59.79 600.07 62.88 601.29 61.80C602.47 60.76 603.65 41.02 604.84 40.40C606.06 39.76 607.28 49.99 608.50 50.30C609.68 50.60 610.87 47.26 612.05 47.00C613.27 46.74 614.49 46.05 615.71 46.60C616.93 47.15 618.16 57.66 619.38 58.10C620.56 58.53 621.74 55.39 622.92 55.80C624.15 56.23 625.37 66.62 626.59 66.90C627.77 67.17 628.95 64.38 630.14 61.80" fill="none" stroke="#484848" stroke-width="0.66" stroke-linejoin="round"/>
<path d="M374.50 139.51C375.72 159.78 376.93 167.08 378.15 165.66C379.25 164.38 380.35 132.72 381.45 129.69C382.67 126.33 383.89 131.72 385.10 131.34C386.28 130.97 387.46 125.25 388.64 125.40C389.85 125.56 391.07 134.18 392.29 133.65C393.47 133.14 394.65 120.88 395.82 119.87C397.04 118.84 398.26 120.09 399.48 121.93C400.69 123.78 401.91 133.86 403.13 134.89C404.31 135.88 405.48 135.29 406.66 134.47C407.88 133.63 409.10 128.47 410.31 126.23C411.49 124.05 412.67 119.18 413.85 120.86C415.07 122.60 416.28 147.29 417.50 147.84C418.73 148.40 419.97 130.87 421.20 126.89C422.32 123.28 423.43 120.94 424.55 120.61C425.78 120.26 427.02 124.04 428.25 123.75C429.45 123.47 430.64 117.68 431.83 117.48C433.07 117.28 434.30 121.99 435.54 121.69C436.73 121.40 437.93 114.97 439.12 114.35C440.36 113.70 441.59 113.38 442.82 114.35C444.06 115.31 445.29 122.37 446.53 125.89C447.72 129.31 448.92 135.25 450.11 135.30C451.34 135.35 452.58 127.09 453.81 125.89C455.01 124.74 456.20 124.91 457.40 124.82C458.63 124.73 459.87 123.33 461.10 124.82C462.33 126.31 463.56 143.98 464.79 142.64C465.90 141.44 467.01 116.75 468.12 114.35C469.34 111.69 470.57 115.97 471.80 115.42C472.99 114.88 474.18 107.28 475.37 108.07C476.60 108.89 477.83 125.91 479.05 125.89C480.24 125.88 481.43 110.41 482.62 109.06C483.85 107.68 485.08 108.94 486.31 110.14C487.54 111.33 488.77 117.41 489.99 119.54C491.18 121.60 492.37 123.73 493.56 123.75C494.79 123.77 496.02 119.61 497.25 119.54C498.44 119.47 499.62 122.95 500.81 122.68C502.04 122.40 503.27 115.15 504.50 115.91C505.72 116.67 506.94 132.60 508.16 131.59C509.26 130.67 510.36 111.20 511.46 108.32C512.68 105.14 513.90 106.13 515.12 105.93C516.29 105.74 517.47 105.26 518.65 105.93C519.87 106.63 521.09 115.06 522.31 114.43C523.49 113.82 524.67 99.97 525.85 99.25C527.07 98.50 528.29 105.59 529.50 106.34C530.72 107.10 531.94 106.13 533.16 106.75C534.34 107.36 535.52 110.96 536.70 112.03C537.92 113.14 539.14 114.44 540.36 114.02C541.53 113.61 542.71 109.24 543.89 107.33C545.11 105.36 546.33 100.37 547.55 102.30C548.77 104.24 549.99 131.40 551.21 130.60C552.31 129.87 553.41 103.82 554.52 99.25C555.74 94.19 556.96 94.18 558.18 93.80C559.36 93.44 560.54 93.62 561.72 94.63C562.94 95.67 564.16 104.00 565.38 103.29C566.56 102.61 567.74 87.44 568.92 87.12C570.14 86.79 571.36 98.48 572.58 100.32C573.80 102.16 575.02 101.00 576.24 102.30C577.42 103.56 578.61 109.07 579.79 109.39C581.01 109.73 582.23 107.69 583.45 105.93C584.63 104.23 585.81 98.59 586.99 98.26C588.21 97.92 589.43 99.07 590.65 102.30C591.87 105.54 593.09 125.60 594.31 123.50C595.42 121.61 596.52 87.79 597.62 84.56C598.85 80.99 600.07 86.67 601.29 87.12C602.47 87.55 603.65 86.44 604.84 87.78C606.06 89.16 607.28 101.35 608.50 101.31C609.68 101.27 610.87 90.52 612.05 88.19C613.27 85.79 614.49 84.23 615.71 84.56C616.93 84.90 618.16 88.75 619.38 92.23C620.56 95.61 621.74 105.62 622.92 105.93C624.15 106.25 625.37 95.99 626.59 95.20C627.77 94.45 628.95 95.20 630.14 96.28" fill="none" stroke="#111" stroke-width="0.95" stroke-linejoin="round"/>
<line x1="374.50" y1="18.90" x2="374.50" y2="176.40" stroke="#111" stroke-width="1.00"/>
<line x1="374.00" y1="175.90" x2="633.80" y2="175.90" stroke="#111" stroke-width="1.00"/>
<line x1="373.00" y1="175.85" x2="374.50" y2="175.85" stroke="#111" stroke-width="0.95"/>
<line x1="371.50" y1="167.60" x2="374.50" y2="167.60" stroke="#111" stroke-width="0.95"/>
<text transform="translate(368.90 169.75) scale(0.870 1)" text-anchor="end" font-size="6.10" fill="#111" stroke="#111">2.0k</text>
<line x1="373.00" y1="159.35" x2="374.50" y2="159.35" stroke="#111" stroke-width="0.95"/>
<line x1="371.50" y1="151.10" x2="374.50" y2="151.10" stroke="#111" stroke-width="0.95"/>
<text transform="translate(368.90 153.25) scale(0.870 1)" text-anchor="end" font-size="6.10" fill="#111" stroke="#111">4.0k</text>
<line x1="373.00" y1="142.85" x2="374.50" y2="142.85" stroke="#111" stroke-width="0.95"/>
<line x1="371.50" y1="134.60" x2="374.50" y2="134.60" stroke="#111" stroke-width="0.95"/>
<text transform="translate(368.90 136.75) scale(0.870 1)" text-anchor="end" font-size="6.10" fill="#111" stroke="#111">6.0k</text>
<line x1="373.00" y1="126.35" x2="374.50" y2="126.35" stroke="#111" stroke-width="0.95"/>
<line x1="371.50" y1="118.10" x2="374.50" y2="118.10" stroke="#111" stroke-width="0.95"/>
<text transform="translate(368.90 120.25) scale(0.870 1)" text-anchor="end" font-size="6.10" fill="#111" stroke="#111">8.0k</text>
<line x1="373.00" y1="109.85" x2="374.50" y2="109.85" stroke="#111" stroke-width="0.95"/>
<line x1="371.50" y1="101.60" x2="374.50" y2="101.60" stroke="#111" stroke-width="0.95"/>
<text transform="translate(368.90 103.75) scale(0.870 1)" text-anchor="end" font-size="6.10" fill="#111" stroke="#111">10.0k</text>
<line x1="373.00" y1="93.35" x2="374.50" y2="93.35" stroke="#111" stroke-width="0.95"/>
<line x1="371.50" y1="85.10" x2="374.50" y2="85.10" stroke="#111" stroke-width="0.95"/>
<text transform="translate(368.90 87.25) scale(0.870 1)" text-anchor="end" font-size="6.10" fill="#111" stroke="#111">12.0k</text>
<line x1="373.00" y1="76.85" x2="374.50" y2="76.85" stroke="#111" stroke-width="0.95"/>
<line x1="371.50" y1="68.60" x2="374.50" y2="68.60" stroke="#111" stroke-width="0.95"/>
<text transform="translate(368.90 70.75) scale(0.870 1)" text-anchor="end" font-size="6.10" fill="#111" stroke="#111">14.0k</text>
<line x1="373.00" y1="60.35" x2="374.50" y2="60.35" stroke="#111" stroke-width="0.95"/>
<line x1="371.50" y1="52.10" x2="374.50" y2="52.10" stroke="#111" stroke-width="0.95"/>
<text transform="translate(368.90 54.25) scale(0.870 1)" text-anchor="end" font-size="6.10" fill="#111" stroke="#111">16.0k</text>
<line x1="373.00" y1="43.85" x2="374.50" y2="43.85" stroke="#111" stroke-width="0.95"/>
<line x1="371.50" y1="35.60" x2="374.50" y2="35.60" stroke="#111" stroke-width="0.95"/>
<text transform="translate(368.90 37.75) scale(0.870 1)" text-anchor="end" font-size="6.10" fill="#111" stroke="#111">18.0k</text>
<line x1="373.00" y1="27.35" x2="374.50" y2="27.35" stroke="#111" stroke-width="0.95"/>
<line x1="371.50" y1="19.10" x2="374.50" y2="19.10" stroke="#111" stroke-width="0.95"/>
<text transform="translate(368.90 21.25) scale(0.870 1)" text-anchor="end" font-size="6.10" fill="#111" stroke="#111">20.0k</text>
<line x1="374.50" y1="175.90" x2="374.50" y2="178.90" stroke="#111" stroke-width="0.95"/>
<text transform="translate(374.50 186.80) scale(0.870 1)" text-anchor="middle" class="s" font-size="6.20" fill="#111" stroke="#111">2011/1/1</text>
<line x1="385.10" y1="175.90" x2="385.10" y2="177.40" stroke="#111" stroke-width="0.95"/>
<line x1="395.82" y1="175.90" x2="395.82" y2="177.40" stroke="#111" stroke-width="0.95"/>
<line x1="406.66" y1="175.90" x2="406.66" y2="177.40" stroke="#111" stroke-width="0.95"/>
<line x1="417.50" y1="175.90" x2="417.50" y2="178.90" stroke="#111" stroke-width="0.95"/>
<text transform="translate(417.50 186.80) scale(0.870 1)" text-anchor="middle" class="s" font-size="6.20" fill="#111" stroke="#111">2012/1/1</text>
<line x1="428.25" y1="175.90" x2="428.25" y2="177.40" stroke="#111" stroke-width="0.95"/>
<line x1="439.12" y1="175.90" x2="439.12" y2="177.40" stroke="#111" stroke-width="0.95"/>
<line x1="450.11" y1="175.90" x2="450.11" y2="177.40" stroke="#111" stroke-width="0.95"/>
<line x1="461.10" y1="175.90" x2="461.10" y2="178.90" stroke="#111" stroke-width="0.95"/>
<text transform="translate(461.10 186.80) scale(0.870 1)" text-anchor="middle" class="s" font-size="6.20" fill="#111" stroke="#111">2013/1/1</text>
<line x1="471.80" y1="175.90" x2="471.80" y2="177.40" stroke="#111" stroke-width="0.95"/>
<line x1="482.62" y1="175.90" x2="482.62" y2="177.40" stroke="#111" stroke-width="0.95"/>
<line x1="493.56" y1="175.90" x2="493.56" y2="177.40" stroke="#111" stroke-width="0.95"/>
<line x1="504.50" y1="175.90" x2="504.50" y2="178.90" stroke="#111" stroke-width="0.95"/>
<text transform="translate(504.50 186.80) scale(0.870 1)" text-anchor="middle" class="s" font-size="6.20" fill="#111" stroke="#111">2014/1/1</text>
<line x1="515.12" y1="175.90" x2="515.12" y2="177.40" stroke="#111" stroke-width="0.95"/>
<line x1="525.85" y1="175.90" x2="525.85" y2="177.40" stroke="#111" stroke-width="0.95"/>
<line x1="536.70" y1="175.90" x2="536.70" y2="177.40" stroke="#111" stroke-width="0.95"/>
<line x1="547.55" y1="175.90" x2="547.55" y2="178.90" stroke="#111" stroke-width="0.95"/>
<text transform="translate(547.55 186.80) scale(0.870 1)" text-anchor="middle" class="s" font-size="6.20" fill="#111" stroke="#111">2015/1/1</text>
<line x1="558.18" y1="175.90" x2="558.18" y2="177.40" stroke="#111" stroke-width="0.95"/>
<line x1="568.92" y1="175.90" x2="568.92" y2="177.40" stroke="#111" stroke-width="0.95"/>
<line x1="579.79" y1="175.90" x2="579.79" y2="177.40" stroke="#111" stroke-width="0.95"/>
<line x1="590.65" y1="175.90" x2="590.65" y2="178.90" stroke="#111" stroke-width="0.95"/>
<text transform="translate(590.65 186.80) scale(0.870 1)" text-anchor="middle" class="s" font-size="6.20" fill="#111" stroke="#111">2016/1/1</text>
<line x1="601.29" y1="175.90" x2="601.29" y2="177.40" stroke="#111" stroke-width="0.95"/>
<line x1="612.05" y1="175.90" x2="612.05" y2="177.40" stroke="#111" stroke-width="0.95"/>
<line x1="622.92" y1="175.90" x2="622.92" y2="177.40" stroke="#111" stroke-width="0.95"/>
<line x1="633.80" y1="175.90" x2="633.80" y2="178.90" stroke="#111" stroke-width="0.95"/>
<text transform="translate(633.80 186.80) scale(0.870 1)" text-anchor="middle" class="s" font-size="6.20" fill="#111" stroke="#111">2017/1/1</text>
<text x="504.30" y="198.40" text-anchor="middle" class="s" font-size="6.00" fill="#111" stroke="#111">Date</text>
<line x1="634.10" y1="18.90" x2="634.10" y2="176.30" stroke="#b4b4b4" stroke-width="1.50"/>
<line x1="634.10" y1="168.70" x2="636.70" y2="168.70" stroke="#777" stroke-width="0.80"/>
<text transform="translate(639.10 170.85) scale(0.870 1)" font-size="6.10" fill="#888" stroke="#888">5.0k</text>
<line x1="634.10" y1="159.36" x2="635.60" y2="159.36" stroke="#777" stroke-width="0.80"/>
<line x1="634.10" y1="150.02" x2="636.70" y2="150.02" stroke="#777" stroke-width="0.80"/>
<text transform="translate(639.10 152.17) scale(0.870 1)" font-size="6.10" fill="#888" stroke="#888">10.0k</text>
<line x1="634.10" y1="140.69" x2="635.60" y2="140.69" stroke="#777" stroke-width="0.80"/>
<line x1="634.10" y1="131.35" x2="636.70" y2="131.35" stroke="#777" stroke-width="0.80"/>
<text transform="translate(639.10 133.50) scale(0.870 1)" font-size="6.10" fill="#888" stroke="#888">15.0k</text>
<line x1="634.10" y1="122.01" x2="635.60" y2="122.01" stroke="#777" stroke-width="0.80"/>
<line x1="634.10" y1="112.67" x2="636.70" y2="112.67" stroke="#777" stroke-width="0.80"/>
<text transform="translate(639.10 114.82) scale(0.870 1)" font-size="6.10" fill="#888" stroke="#888">20.0k</text>
<line x1="634.10" y1="103.34" x2="635.60" y2="103.34" stroke="#777" stroke-width="0.80"/>
<line x1="634.10" y1="94.00" x2="636.70" y2="94.00" stroke="#777" stroke-width="0.80"/>
<text transform="translate(639.10 96.15) scale(0.870 1)" font-size="6.10" fill="#888" stroke="#888">25.0k</text>
<line x1="634.10" y1="84.66" x2="635.60" y2="84.66" stroke="#777" stroke-width="0.80"/>
<line x1="634.10" y1="75.32" x2="636.70" y2="75.32" stroke="#777" stroke-width="0.80"/>
<text transform="translate(639.10 77.47) scale(0.870 1)" font-size="6.10" fill="#888" stroke="#888">30.0k</text>
<line x1="634.10" y1="65.99" x2="635.60" y2="65.99" stroke="#777" stroke-width="0.80"/>
<line x1="634.10" y1="56.65" x2="636.70" y2="56.65" stroke="#777" stroke-width="0.80"/>
<text transform="translate(639.10 58.80) scale(0.870 1)" font-size="6.10" fill="#888" stroke="#888">35.0k</text>
<line x1="634.10" y1="47.31" x2="635.60" y2="47.31" stroke="#777" stroke-width="0.80"/>
<line x1="634.10" y1="37.97" x2="636.70" y2="37.97" stroke="#777" stroke-width="0.80"/>
<text transform="translate(639.10 40.12) scale(0.870 1)" font-size="6.10" fill="#888" stroke="#888">40.0k</text>
<line x1="634.10" y1="28.64" x2="635.60" y2="28.64" stroke="#777" stroke-width="0.80"/>
<line x1="634.10" y1="19.30" x2="636.70" y2="19.30" stroke="#777" stroke-width="0.80"/>
<text transform="translate(639.10 21.45) scale(0.870 1)" font-size="6.10" fill="#888" stroke="#888">45.0k</text>
<line x1="663.60" y1="19.85" x2="663.60" y2="177.40" stroke="#111" stroke-width="1.10"/>
<line x1="663.60" y1="176.60" x2="666.40" y2="176.60" stroke="#111" stroke-width="0.95"/>
<text transform="translate(675.70 178.85) scale(0.870 1)" text-anchor="end" font-size="6.20" fill="#111" stroke="#111">2.0</text>
<line x1="663.60" y1="163.57" x2="665.10" y2="163.57" stroke="#111" stroke-width="0.95"/>
<line x1="663.60" y1="150.55" x2="666.40" y2="150.55" stroke="#111" stroke-width="0.95"/>
<text transform="translate(675.70 152.80) scale(0.870 1)" text-anchor="end" font-size="6.20" fill="#111" stroke="#111">3.0</text>
<line x1="663.60" y1="137.52" x2="665.10" y2="137.52" stroke="#111" stroke-width="0.95"/>
<line x1="663.60" y1="124.50" x2="666.40" y2="124.50" stroke="#111" stroke-width="0.95"/>
<text transform="translate(675.70 126.75) scale(0.870 1)" text-anchor="end" font-size="6.20" fill="#111" stroke="#111">4.0</text>
<line x1="663.60" y1="111.47" x2="665.10" y2="111.47" stroke="#111" stroke-width="0.95"/>
<line x1="663.60" y1="98.45" x2="666.40" y2="98.45" stroke="#111" stroke-width="0.95"/>
<text transform="translate(675.70 100.70) scale(0.870 1)" text-anchor="end" font-size="6.20" fill="#111" stroke="#111">5.0</text>
<line x1="663.60" y1="85.42" x2="665.10" y2="85.42" stroke="#111" stroke-width="0.95"/>
<line x1="663.60" y1="72.40" x2="666.40" y2="72.40" stroke="#111" stroke-width="0.95"/>
<text transform="translate(675.70 74.65) scale(0.870 1)" text-anchor="end" font-size="6.20" fill="#111" stroke="#111">6.0</text>
<line x1="663.60" y1="59.37" x2="665.10" y2="59.37" stroke="#111" stroke-width="0.95"/>
<line x1="663.60" y1="46.35" x2="666.40" y2="46.35" stroke="#111" stroke-width="0.95"/>
<text transform="translate(675.70 48.60) scale(0.870 1)" text-anchor="end" font-size="6.20" fill="#111" stroke="#111">7.0</text>
<line x1="663.60" y1="33.32" x2="665.10" y2="33.32" stroke="#111" stroke-width="0.95"/>
<line x1="663.60" y1="20.30" x2="666.40" y2="20.30" stroke="#111" stroke-width="0.95"/>
<text transform="translate(675.70 22.55) scale(0.870 1)" text-anchor="end" font-size="6.20" fill="#111" stroke="#111">8.0</text>
<text transform="translate(353.40 100.60) rotate(-90)" text-anchor="middle" font-weight="bold" font-size="5.10" fill="#111" stroke="#111">HIV/AIDS Report Cases</text>
<text transform="translate(658.60 96.00) rotate(-90)" text-anchor="middle" font-size="7.00" fill="#444" stroke="#444">Baidu Index</text>
<text transform="translate(684.00 100.50) rotate(-90)" text-anchor="middle" font-size="7.00" fill="#111" stroke="#111">Ratio</text>
<text x="354.50" y="8.10" font-weight="bold" font-size="8.40" fill="#111" stroke="#111">(1b)</text>
<line x1="385.30" y1="26.90" x2="394.40" y2="26.90" stroke="#484848" stroke-width="0.91"/>
<text x="397.20" y="28.45" font-size="5.32" fill="#222" stroke="#222">BDI of Papule</text>
<line x1="385.30" y1="35.70" x2="394.40" y2="35.70" stroke="#333" stroke-width="1.05"/>
<text x="397.20" y="37.25" font-size="5.32" fill="#222" stroke="#222">Mounthly case counts</text>
<line x1="386.10" y1="44.60" x2="394.40" y2="44.60" stroke="#3e3e3e" stroke-width="0.82" stroke-dasharray="2.7 2.3"/>
<text x="397.20" y="46.15" font-size="5.32" fill="#222" stroke="#222">Relitive ratio</text>
<line x1="38.20" y1="215.30" x2="38.20" y2="362.50" stroke="#d4d4d4" stroke-width="0.60" stroke-dasharray="1.1 1.1"/>
<line x1="48.92" y1="215.30" x2="48.92" y2="362.50" stroke="#d4d4d4" stroke-width="0.60" stroke-dasharray="1.1 1.1"/>
<line x1="59.76" y1="215.30" x2="59.76" y2="362.50" stroke="#d4d4d4" stroke-width="0.60" stroke-dasharray="1.1 1.1"/>
<line x1="70.60" y1="215.30" x2="70.60" y2="362.50" stroke="#b2b2b2" stroke-width="0.70" stroke-dasharray="1.5 1.5"/>
<line x1="81.39" y1="215.30" x2="81.39" y2="362.50" stroke="#d4d4d4" stroke-width="0.60" stroke-dasharray="1.1 1.1"/>
<line x1="92.30" y1="215.30" x2="92.30" y2="362.50" stroke="#d4d4d4" stroke-width="0.60" stroke-dasharray="1.1 1.1"/>
<line x1="103.32" y1="215.30" x2="103.32" y2="362.50" stroke="#d4d4d4" stroke-width="0.60" stroke-dasharray="1.1 1.1"/>
<line x1="114.35" y1="215.30" x2="114.35" y2="362.50" stroke="#b2b2b2" stroke-width="0.70" stroke-dasharray="1.5 1.5"/>
<line x1="125.19" y1="215.30" x2="125.19" y2="362.50" stroke="#d4d4d4" stroke-width="0.60" stroke-dasharray="1.1 1.1"/>
<line x1="136.14" y1="215.30" x2="136.14" y2="362.50" stroke="#d4d4d4" stroke-width="0.60" stroke-dasharray="1.1 1.1"/>
<line x1="147.22" y1="215.30" x2="147.22" y2="362.50" stroke="#d4d4d4" stroke-width="0.60" stroke-dasharray="1.1 1.1"/>
<line x1="158.30" y1="215.30" x2="158.30" y2="362.50" stroke="#b2b2b2" stroke-width="0.70" stroke-dasharray="1.5 1.5"/>
<line x1="168.95" y1="215.30" x2="168.95" y2="362.50" stroke="#d4d4d4" stroke-width="0.60" stroke-dasharray="1.1 1.1"/>
<line x1="179.72" y1="215.30" x2="179.72" y2="362.50" stroke="#d4d4d4" stroke-width="0.60" stroke-dasharray="1.1 1.1"/>
<line x1="190.61" y1="215.30" x2="190.61" y2="362.50" stroke="#d4d4d4" stroke-width="0.60" stroke-dasharray="1.1 1.1"/>
<line x1="201.50" y1="215.30" x2="201.50" y2="362.50" stroke="#b2b2b2" stroke-width="0.70" stroke-dasharray="1.5 1.5"/>
<line x1="212.37" y1="215.30" x2="212.37" y2="362.50" stroke="#d4d4d4" stroke-width="0.60" stroke-dasharray="1.1 1.1"/>
<line x1="223.37" y1="215.30" x2="223.37" y2="362.50" stroke="#d4d4d4" stroke-width="0.60" stroke-dasharray="1.1 1.1"/>
<line x1="234.48" y1="215.30" x2="234.48" y2="362.50" stroke="#d4d4d4" stroke-width="0.60" stroke-dasharray="1.1 1.1"/>
<line x1="245.60" y1="215.30" x2="245.60" y2="362.50" stroke="#b2b2b2" stroke-width="0.70" stroke-dasharray="1.5 1.5"/>
<line x1="256.33" y1="215.30" x2="256.33" y2="362.50" stroke="#d4d4d4" stroke-width="0.60" stroke-dasharray="1.1 1.1"/>
<line x1="267.17" y1="215.30" x2="267.17" y2="362.50" stroke="#d4d4d4" stroke-width="0.60" stroke-dasharray="1.1 1.1"/>
<line x1="278.14" y1="215.30" x2="278.14" y2="362.50" stroke="#d4d4d4" stroke-width="0.60" stroke-dasharray="1.1 1.1"/>
<path d="M27.60 310.90C28.82 304.87 30.03 300.87 31.25 303.80C32.35 306.44 33.45 342.23 34.55 345.10C35.77 348.28 36.99 343.15 38.20 341.80C39.38 340.49 40.56 336.79 41.74 335.20C42.95 333.56 44.17 330.25 45.39 330.30C46.57 330.35 47.75 335.62 48.92 335.60C50.14 335.58 51.36 331.14 52.58 329.70C53.79 328.26 55.01 325.61 56.23 325.30C57.41 325.00 58.58 324.78 59.76 325.30C60.98 325.84 62.20 331.13 63.41 333.00C64.59 334.81 65.77 338.85 66.95 338.50C68.17 338.14 69.38 327.98 70.60 327.50C71.84 327.01 73.08 331.97 74.32 331.90C75.43 331.84 76.55 328.24 77.67 327.50C78.91 326.69 80.15 326.51 81.39 325.90C82.59 325.31 83.78 323.96 84.98 323.10C86.22 322.21 87.46 319.86 88.70 319.70C89.90 319.55 91.10 320.72 92.30 320.80C93.53 320.88 94.77 321.19 96.01 320.80C97.25 320.41 98.49 317.87 99.73 315.30C100.93 312.82 102.12 301.08 103.32 301.20C104.56 301.32 105.80 316.32 107.04 318.00C108.24 319.63 109.44 319.36 110.63 319.50C111.87 319.65 113.11 320.82 114.35 319.60C115.59 318.37 116.84 301.29 118.08 302.10C119.21 302.83 120.33 323.63 121.45 326.20C122.70 329.04 123.94 328.36 125.19 328.80C126.39 329.23 127.60 330.80 128.80 329.70C130.04 328.56 131.29 312.81 132.53 312.40C133.74 312.00 134.94 322.54 136.14 323.10C137.39 323.68 138.63 320.82 139.88 320.00C141.12 319.18 142.37 317.84 143.61 317.30C144.81 316.78 146.02 315.30 147.22 316.00C148.47 316.72 149.71 326.97 150.95 327.70C152.16 328.41 153.36 327.05 154.57 326.60C155.81 326.13 157.06 325.48 158.30 324.20C159.52 322.95 160.75 315.95 161.97 316.20C163.07 316.43 164.18 325.35 165.28 325.80C166.51 326.30 167.73 322.59 168.95 321.40C170.14 320.25 171.32 318.56 172.50 317.50C173.73 316.41 174.95 314.73 176.17 313.80C177.36 312.90 178.54 311.91 179.72 311.00C180.95 310.06 182.17 307.43 183.39 307.20C184.61 306.97 185.84 308.14 187.06 307.80C188.24 307.47 189.43 302.78 190.61 302.70C191.83 302.62 193.06 305.56 194.28 307.00C195.46 308.39 196.65 311.31 197.83 312.80C199.05 314.34 200.28 317.68 201.50 317.70C202.75 317.72 204.00 312.04 205.25 312.90C206.37 313.68 207.50 325.16 208.63 327.30C209.88 329.67 211.13 331.59 212.37 331.30C213.58 331.02 214.79 325.38 216.00 323.60C217.25 321.76 218.50 318.57 219.74 318.30C220.95 318.04 222.16 319.74 223.37 319.60C224.62 319.45 225.87 315.66 227.11 316.10C228.36 316.54 229.61 324.10 230.86 325.80C232.07 327.45 233.28 327.80 234.48 329.40C235.73 331.06 236.98 337.03 238.23 338.60C239.44 340.12 240.65 341.79 241.85 341.80C243.10 341.81 244.35 339.67 245.60 338.50C246.83 337.34 248.06 332.60 249.29 333.40C250.41 334.12 251.52 346.87 252.63 347.30C253.86 347.78 255.09 341.91 256.33 337.40C257.52 333.03 258.71 316.73 259.90 313.10C261.13 309.35 262.36 305.90 263.60 306.50C264.79 307.08 265.98 318.78 267.17 320.80C268.40 322.89 269.63 323.36 270.87 324.20C272.10 325.04 273.33 327.11 274.56 326.80C275.75 326.50 276.94 319.93 278.14 320.20C279.37 320.48 280.60 330.87 281.83 331.20C283.02 331.52 284.21 329.28 285.41 325.30" fill="none" stroke="#3e3e3e" stroke-width="0.82" stroke-dasharray="2.3 2" stroke-linejoin="round"/>
<path d="M27.60 328.60C28.82 328.60 30.03 328.34 31.25 327.50C32.35 326.74 33.45 317.95 34.55 317.50C35.77 317.00 36.99 319.87 38.20 319.30C39.38 318.75 40.56 307.50 41.74 306.70C42.95 305.87 44.17 306.55 45.39 306.00C46.57 305.47 47.75 299.25 48.92 298.70C50.14 298.13 51.36 297.74 52.58 297.90C53.79 298.05 55.01 301.49 56.23 301.80C57.41 302.10 58.58 302.31 59.76 302.30C60.98 302.29 62.20 301.55 63.41 301.60C64.59 301.65 65.77 302.59 66.95 303.20C68.17 303.83 69.38 309.09 70.60 309.10C71.84 309.11 73.08 304.89 74.32 303.20C75.43 301.67 76.55 293.37 77.67 292.50C78.91 291.54 80.15 291.83 81.39 291.00C82.59 290.19 83.78 282.59 84.98 281.50C86.22 280.38 87.46 279.33 88.70 278.40C89.90 277.50 91.10 272.08 92.30 271.80C93.53 271.51 94.77 272.41 96.01 272.90C97.25 273.39 98.49 277.79 99.73 278.00C100.93 278.21 102.12 277.15 103.32 277.30C104.56 277.45 105.80 280.65 107.04 281.10C108.24 281.54 109.44 282.24 110.63 282.40C111.87 282.57 113.11 282.34 114.35 282.90C115.59 283.46 116.84 291.92 118.08 291.70C119.21 291.50 120.33 281.21 121.45 280.70C122.70 280.14 123.94 282.58 125.19 282.40C126.39 282.22 127.60 278.05 128.80 277.30C130.04 276.53 131.29 275.39 132.53 274.50C133.74 273.64 134.94 268.32 136.14 267.80C137.39 267.26 138.63 266.69 139.88 267.00C141.12 267.31 142.37 273.02 143.61 274.00C144.81 274.94 146.02 276.23 147.22 277.30C148.47 278.40 149.71 285.62 150.95 286.20C152.16 286.77 153.36 287.15 154.57 286.80C155.81 286.44 157.06 278.97 158.30 278.90C159.52 278.83 160.75 285.64 161.97 285.10C163.07 284.61 164.18 273.22 165.28 270.70C166.51 267.91 167.73 259.90 168.95 258.60C170.14 257.34 171.32 255.39 172.50 255.30C173.73 255.21 174.95 258.12 176.17 257.00C177.36 255.91 178.54 235.10 179.72 234.00C180.95 232.86 182.17 234.93 183.39 235.40C184.61 235.87 185.84 238.99 187.06 239.30C188.24 239.60 189.43 239.32 190.61 239.80C191.83 240.29 193.06 247.04 194.28 247.30C195.46 247.56 196.65 245.03 197.83 245.30C199.05 245.58 200.28 250.43 201.50 253.10C202.75 255.83 204.00 275.87 205.25 276.20C206.37 276.50 207.50 264.06 208.63 263.00C209.88 261.82 211.13 262.01 212.37 261.20C213.58 260.41 214.79 254.55 216.00 253.10C217.25 251.60 218.50 248.40 219.74 246.40C220.95 244.46 222.16 232.20 223.37 232.10C224.62 232.00 225.87 241.97 227.11 245.30C228.36 248.63 229.61 263.07 230.86 266.30C232.07 269.43 233.28 276.14 234.48 278.40C235.73 280.74 236.98 288.94 238.23 289.30C239.44 289.65 240.65 285.90 241.85 285.90C243.10 285.90 244.35 288.60 245.60 289.60C246.83 290.58 248.06 296.92 249.29 296.20C250.41 295.55 251.52 280.82 252.63 278.40C253.86 275.72 255.09 274.09 256.33 269.60C257.52 265.26 258.71 223.15 259.90 221.00C261.13 218.78 262.36 226.24 263.60 227.70C264.79 229.11 265.98 234.25 267.17 235.40C268.40 236.59 269.63 238.25 270.87 239.80C272.10 241.35 273.33 251.94 274.56 253.10C275.75 254.22 276.94 254.36 278.14 255.30C279.37 256.27 280.60 265.47 281.83 265.20C283.02 264.94 284.21 256.04 285.41 250.80" fill="none" stroke="#484848" stroke-width="0.66" stroke-linejoin="round"/>
<path d="M27.60 322.41C28.82 340.53 30.03 347.06 31.25 345.79C32.35 344.64 33.45 316.35 34.55 313.63C35.77 310.63 36.99 315.45 38.20 315.11C39.38 314.78 40.56 309.66 41.74 309.80C42.95 309.94 44.17 317.65 45.39 317.17C46.57 316.72 47.75 305.76 48.92 304.86C50.14 303.93 51.36 305.05 52.58 306.70C53.79 308.35 55.01 317.36 56.23 318.28C57.41 319.17 58.58 318.65 59.76 317.91C60.98 317.16 62.20 312.55 63.41 310.54C64.59 308.59 65.77 304.24 66.95 305.74C68.17 307.30 69.38 329.35 70.60 329.86C71.84 330.37 73.08 314.69 74.32 311.13C75.43 307.91 76.55 305.81 77.67 305.52C78.91 305.20 80.15 308.59 81.39 308.32C82.59 308.07 83.78 302.90 84.98 302.72C86.22 302.54 87.46 306.75 88.70 306.48C89.90 306.22 91.10 300.47 92.30 299.92C93.53 299.34 94.77 299.06 96.01 299.92C97.25 300.78 98.49 307.09 99.73 310.24C100.93 313.29 102.12 318.60 103.32 318.65C104.56 318.70 105.80 311.31 107.04 310.24C108.24 309.21 109.44 309.36 110.63 309.28C111.87 309.20 113.11 307.97 114.35 309.28C115.59 310.61 116.84 326.41 118.08 325.21C119.21 324.14 120.33 302.06 121.45 299.92C122.70 297.54 123.94 301.37 125.19 300.88C126.39 300.40 127.60 293.60 128.80 294.31C130.04 295.04 131.29 310.25 132.53 310.24C133.74 310.23 134.94 296.40 136.14 295.20C137.39 293.96 138.63 295.09 139.88 296.16C141.12 297.22 142.37 302.66 143.61 304.56C144.81 306.40 146.02 308.30 147.22 308.32C148.47 308.35 149.71 304.63 150.95 304.56C152.16 304.50 153.36 307.61 154.57 307.37C155.81 307.12 157.06 300.62 158.30 301.32C159.52 302.01 160.75 316.24 161.97 315.33C163.07 314.51 164.18 297.11 165.28 294.53C166.51 291.69 167.73 292.57 168.95 292.39C170.14 292.23 171.32 291.79 172.50 292.39C173.73 293.02 174.95 300.56 176.17 299.99C177.36 299.44 178.54 287.07 179.72 286.42C180.95 285.75 182.17 292.09 183.39 292.76C184.61 293.44 185.84 292.57 187.06 293.13C188.24 293.67 189.43 296.89 190.61 297.85C191.83 298.84 193.06 300.00 194.28 299.62C195.46 299.26 196.65 295.35 197.83 293.65C199.05 291.89 200.28 287.49 201.50 289.15C202.75 290.85 204.00 315.16 205.25 314.45C206.37 313.80 207.50 290.51 208.63 286.42C209.88 281.90 211.13 281.89 212.37 281.55C213.58 281.23 214.79 281.39 216.00 282.29C217.25 283.22 218.50 290.67 219.74 290.03C220.95 289.42 222.16 275.87 223.37 275.58C224.62 275.28 225.87 285.74 227.11 287.38C228.36 289.02 229.61 287.98 230.86 289.15C232.07 290.28 233.28 295.20 234.48 295.49C235.73 295.79 236.98 293.97 238.23 292.39C239.44 290.87 240.65 285.83 241.85 285.54C243.10 285.23 244.35 286.22 245.60 289.15C246.83 292.04 248.06 309.98 249.29 308.10C250.41 306.41 251.52 276.18 252.63 273.29C253.86 270.10 255.09 275.18 256.33 275.58C257.52 275.97 258.71 274.97 259.90 276.17C261.13 277.41 262.36 288.30 263.60 288.26C264.79 288.23 265.98 278.62 267.17 276.54C268.40 274.39 269.63 272.99 270.87 273.29C272.10 273.59 273.33 277.03 274.56 280.15C275.75 283.17 276.94 292.12 278.14 292.39C279.37 292.68 280.60 283.51 281.83 282.81C283.02 282.13 284.21 282.81 285.41 283.77" fill="none" stroke="#111" stroke-width="0.95" stroke-linejoin="round"/>
<line x1="27.60" y1="214.60" x2="27.60" y2="363.00" stroke="#111" stroke-width="1.00"/>
<line x1="27.10" y1="362.50" x2="289.10" y2="362.50" stroke="#111" stroke-width="1.00"/>
<line x1="26.10" y1="362.50" x2="27.60" y2="362.50" stroke="#111" stroke-width="0.95"/>
<line x1="26.10" y1="355.12" x2="27.60" y2="355.12" stroke="#111" stroke-width="0.95"/>
<line x1="24.60" y1="347.75" x2="27.60" y2="347.75" stroke="#111" stroke-width="0.95"/>
<text transform="translate(22.00 349.90) scale(0.870 1)" text-anchor="end" font-size="6.10" fill="#111" stroke="#111">2.0k</text>
<line x1="26.10" y1="340.38" x2="27.60" y2="340.38" stroke="#111" stroke-width="0.95"/>
<line x1="24.60" y1="333.00" x2="27.60" y2="333.00" stroke="#111" stroke-width="0.95"/>
<text transform="translate(22.00 335.15) scale(0.870 1)" text-anchor="end" font-size="6.10" fill="#111" stroke="#111">4.0k</text>
<line x1="26.10" y1="325.62" x2="27.60" y2="325.62" stroke="#111" stroke-width="0.95"/>
<line x1="24.60" y1="318.25" x2="27.60" y2="318.25" stroke="#111" stroke-width="0.95"/>
<text transform="translate(22.00 320.40) scale(0.870 1)" text-anchor="end" font-size="6.10" fill="#111" stroke="#111">6.0k</text>
<line x1="26.10" y1="310.88" x2="27.60" y2="310.88" stroke="#111" stroke-width="0.95"/>
<line x1="24.60" y1="303.50" x2="27.60" y2="303.50" stroke="#111" stroke-width="0.95"/>
<text transform="translate(22.00 305.65) scale(0.870 1)" text-anchor="end" font-size="6.10" fill="#111" stroke="#111">8.0k</text>
<line x1="26.10" y1="296.12" x2="27.60" y2="296.12" stroke="#111" stroke-width="0.95"/>
<line x1="24.60" y1="288.75" x2="27.60" y2="288.75" stroke="#111" stroke-width="0.95"/>
<text transform="translate(22.00 290.90) scale(0.870 1)" text-anchor="end" font-size="6.10" fill="#111" stroke="#111">10.0k</text>
<line x1="26.10" y1="281.38" x2="27.60" y2="281.38" stroke="#111" stroke-width="0.95"/>
<line x1="24.60" y1="274.00" x2="27.60" y2="274.00" stroke="#111" stroke-width="0.95"/>
<text transform="translate(22.00 276.15) scale(0.870 1)" text-anchor="end" font-size="6.10" fill="#111" stroke="#111">12.0k</text>
<line x1="26.10" y1="266.62" x2="27.60" y2="266.62" stroke="#111" stroke-width="0.95"/>
<line x1="24.60" y1="259.25" x2="27.60" y2="259.25" stroke="#111" stroke-width="0.95"/>
<text transform="translate(22.00 261.40) scale(0.870 1)" text-anchor="end" font-size="6.10" fill="#111" stroke="#111">14.0k</text>
<line x1="26.10" y1="251.88" x2="27.60" y2="251.88" stroke="#111" stroke-width="0.95"/>
<line x1="24.60" y1="244.50" x2="27.60" y2="244.50" stroke="#111" stroke-width="0.95"/>
<text transform="translate(22.00 246.65) scale(0.870 1)" text-anchor="end" font-size="6.10" fill="#111" stroke="#111">16.0k</text>
<line x1="26.10" y1="237.12" x2="27.60" y2="237.12" stroke="#111" stroke-width="0.95"/>
<line x1="24.60" y1="229.75" x2="27.60" y2="229.75" stroke="#111" stroke-width="0.95"/>
<text transform="translate(22.00 231.90) scale(0.870 1)" text-anchor="end" font-size="6.10" fill="#111" stroke="#111">18.0k</text>
<line x1="26.10" y1="222.38" x2="27.60" y2="222.38" stroke="#111" stroke-width="0.95"/>
<line x1="24.60" y1="215.00" x2="27.60" y2="215.00" stroke="#111" stroke-width="0.95"/>
<text transform="translate(22.00 217.15) scale(0.870 1)" text-anchor="end" font-size="6.10" fill="#111" stroke="#111">20.0k</text>
<line x1="27.60" y1="362.50" x2="27.60" y2="365.50" stroke="#111" stroke-width="0.95"/>
<text transform="translate(27.60 373.40) scale(0.870 1)" text-anchor="middle" class="s" font-size="6.20" fill="#111" stroke="#111">2011/1/1</text>
<line x1="38.20" y1="362.50" x2="38.20" y2="364.00" stroke="#111" stroke-width="0.95"/>
<line x1="48.92" y1="362.50" x2="48.92" y2="364.00" stroke="#111" stroke-width="0.95"/>
<line x1="59.76" y1="362.50" x2="59.76" y2="364.00" stroke="#111" stroke-width="0.95"/>
<line x1="70.60" y1="362.50" x2="70.60" y2="365.50" stroke="#111" stroke-width="0.95"/>
<text transform="translate(70.60 373.40) scale(0.870 1)" text-anchor="middle" class="s" font-size="6.20" fill="#111" stroke="#111">2012/1/1</text>
<line x1="81.39" y1="362.50" x2="81.39" y2="364.00" stroke="#111" stroke-width="0.95"/>
<line x1="92.30" y1="362.50" x2="92.30" y2="364.00" stroke="#111" stroke-width="0.95"/>
<line x1="103.32" y1="362.50" x2="103.32" y2="364.00" stroke="#111" stroke-width="0.95"/>
<line x1="114.35" y1="362.50" x2="114.35" y2="365.50" stroke="#111" stroke-width="0.95"/>
<text transform="translate(114.35 373.40) scale(0.870 1)" text-anchor="middle" class="s" font-size="6.20" fill="#111" stroke="#111">2013/1/1</text>
<line x1="125.19" y1="362.50" x2="125.19" y2="364.00" stroke="#111" stroke-width="0.95"/>
<line x1="136.14" y1="362.50" x2="136.14" y2="364.00" stroke="#111" stroke-width="0.95"/>
<line x1="147.22" y1="362.50" x2="147.22" y2="364.00" stroke="#111" stroke-width="0.95"/>
<line x1="158.30" y1="362.50" x2="158.30" y2="365.50" stroke="#111" stroke-width="0.95"/>
<text transform="translate(158.30 373.40) scale(0.870 1)" text-anchor="middle" class="s" font-size="6.20" fill="#111" stroke="#111">2014/1/1</text>
<line x1="168.95" y1="362.50" x2="168.95" y2="364.00" stroke="#111" stroke-width="0.95"/>
<line x1="179.72" y1="362.50" x2="179.72" y2="364.00" stroke="#111" stroke-width="0.95"/>
<line x1="190.61" y1="362.50" x2="190.61" y2="364.00" stroke="#111" stroke-width="0.95"/>
<line x1="201.50" y1="362.50" x2="201.50" y2="365.50" stroke="#111" stroke-width="0.95"/>
<text transform="translate(201.50 373.40) scale(0.870 1)" text-anchor="middle" class="s" font-size="6.20" fill="#111" stroke="#111">2015/1/1</text>
<line x1="212.37" y1="362.50" x2="212.37" y2="364.00" stroke="#111" stroke-width="0.95"/>
<line x1="223.37" y1="362.50" x2="223.37" y2="364.00" stroke="#111" stroke-width="0.95"/>
<line x1="234.48" y1="362.50" x2="234.48" y2="364.00" stroke="#111" stroke-width="0.95"/>
<line x1="245.60" y1="362.50" x2="245.60" y2="365.50" stroke="#111" stroke-width="0.95"/>
<text transform="translate(245.60 373.40) scale(0.870 1)" text-anchor="middle" class="s" font-size="6.20" fill="#111" stroke="#111">2016/1/1</text>
<line x1="256.33" y1="362.50" x2="256.33" y2="364.00" stroke="#111" stroke-width="0.95"/>
<line x1="267.17" y1="362.50" x2="267.17" y2="364.00" stroke="#111" stroke-width="0.95"/>
<line x1="278.14" y1="362.50" x2="278.14" y2="364.00" stroke="#111" stroke-width="0.95"/>
<line x1="289.10" y1="362.50" x2="289.10" y2="365.50" stroke="#111" stroke-width="0.95"/>
<text transform="translate(289.10 373.40) scale(0.870 1)" text-anchor="middle" class="s" font-size="6.20" fill="#111" stroke="#111">2017/1/1</text>
<text x="158.20" y="384.00" text-anchor="middle" class="s" font-size="6.00" fill="#111" stroke="#111">Date</text>
<line x1="289.00" y1="214.60" x2="289.00" y2="362.90" stroke="#a4a4a4" stroke-width="1.35"/>
<line x1="289.00" y1="362.50" x2="291.60" y2="362.50" stroke="#777" stroke-width="0.80"/>
<text transform="translate(294.00 364.65) scale(0.870 1)" font-size="6.10" fill="#888" stroke="#888"></text>
<line x1="289.00" y1="354.31" x2="290.50" y2="354.31" stroke="#777" stroke-width="0.80"/>
<line x1="289.00" y1="346.11" x2="291.60" y2="346.11" stroke="#777" stroke-width="0.80"/>
<text transform="translate(294.00 348.26) scale(0.870 1)" font-size="6.10" fill="#888" stroke="#888">10k</text>
<line x1="289.00" y1="337.92" x2="290.50" y2="337.92" stroke="#777" stroke-width="0.80"/>
<line x1="289.00" y1="329.72" x2="291.60" y2="329.72" stroke="#777" stroke-width="0.80"/>
<text transform="translate(294.00 331.87) scale(0.870 1)" font-size="6.10" fill="#888" stroke="#888">20k</text>
<line x1="289.00" y1="321.52" x2="290.50" y2="321.52" stroke="#777" stroke-width="0.80"/>
<line x1="289.00" y1="313.33" x2="291.60" y2="313.33" stroke="#777" stroke-width="0.80"/>
<text transform="translate(294.00 315.48) scale(0.870 1)" font-size="6.10" fill="#888" stroke="#888">30k</text>
<line x1="289.00" y1="305.13" x2="290.50" y2="305.13" stroke="#777" stroke-width="0.80"/>
<line x1="289.00" y1="296.94" x2="291.60" y2="296.94" stroke="#777" stroke-width="0.80"/>
<text transform="translate(294.00 299.09) scale(0.870 1)" font-size="6.10" fill="#888" stroke="#888">40k</text>
<line x1="289.00" y1="288.75" x2="290.50" y2="288.75" stroke="#777" stroke-width="0.80"/>
<line x1="289.00" y1="280.55" x2="291.60" y2="280.55" stroke="#777" stroke-width="0.80"/>
<text transform="translate(294.00 282.70) scale(0.870 1)" font-size="6.10" fill="#888" stroke="#888">50k</text>
<line x1="289.00" y1="272.36" x2="290.50" y2="272.36" stroke="#777" stroke-width="0.80"/>
<line x1="289.00" y1="264.16" x2="291.60" y2="264.16" stroke="#777" stroke-width="0.80"/>
<text transform="translate(294.00 266.31) scale(0.870 1)" font-size="6.10" fill="#888" stroke="#888">60k</text>
<line x1="289.00" y1="255.97" x2="290.50" y2="255.97" stroke="#777" stroke-width="0.80"/>
<line x1="289.00" y1="247.77" x2="291.60" y2="247.77" stroke="#777" stroke-width="0.80"/>
<text transform="translate(294.00 249.92) scale(0.870 1)" font-size="6.10" fill="#888" stroke="#888">70k</text>
<line x1="289.00" y1="239.57" x2="290.50" y2="239.57" stroke="#777" stroke-width="0.80"/>
<line x1="289.00" y1="231.38" x2="291.60" y2="231.38" stroke="#777" stroke-width="0.80"/>
<text transform="translate(294.00 233.53) scale(0.870 1)" font-size="6.10" fill="#888" stroke="#888">80k</text>
<line x1="289.00" y1="223.19" x2="290.50" y2="223.19" stroke="#777" stroke-width="0.80"/>
<line x1="289.00" y1="214.99" x2="291.60" y2="214.99" stroke="#777" stroke-width="0.80"/>
<text transform="translate(294.00 217.14) scale(0.870 1)" font-size="6.10" fill="#888" stroke="#888">90k</text>
<line x1="312.50" y1="215.59" x2="312.50" y2="364.00" stroke="#111" stroke-width="1.10"/>
<line x1="312.50" y1="363.40" x2="315.30" y2="363.40" stroke="#111" stroke-width="0.95"/>
<text transform="translate(327.50 365.65) scale(0.870 1)" text-anchor="end" font-size="6.20" fill="#111" stroke="#111">2.0</text>
<line x1="312.50" y1="354.19" x2="314.00" y2="354.19" stroke="#111" stroke-width="0.95"/>
<line x1="312.50" y1="344.98" x2="315.30" y2="344.98" stroke="#111" stroke-width="0.95"/>
<text transform="translate(327.50 347.23) scale(0.870 1)" text-anchor="end" font-size="6.20" fill="#111" stroke="#111">4.0</text>
<line x1="312.50" y1="335.77" x2="314.00" y2="335.77" stroke="#111" stroke-width="0.95"/>
<line x1="312.50" y1="326.56" x2="315.30" y2="326.56" stroke="#111" stroke-width="0.95"/>
<text transform="translate(327.50 328.81) scale(0.870 1)" text-anchor="end" font-size="6.20" fill="#111" stroke="#111">6.0</text>
<line x1="312.50" y1="317.35" x2="314.00" y2="317.35" stroke="#111" stroke-width="0.95"/>
<line x1="312.50" y1="308.14" x2="315.30" y2="308.14" stroke="#111" stroke-width="0.95"/>
<text transform="translate(327.50 310.39) scale(0.870 1)" text-anchor="end" font-size="6.20" fill="#111" stroke="#111">8.0</text>
<line x1="312.50" y1="298.93" x2="314.00" y2="298.93" stroke="#111" stroke-width="0.95"/>
<line x1="312.50" y1="289.72" x2="315.30" y2="289.72" stroke="#111" stroke-width="0.95"/>
<text transform="translate(327.50 291.97) scale(0.870 1)" text-anchor="end" font-size="6.20" fill="#111" stroke="#111">10.0</text>
<line x1="312.50" y1="280.51" x2="314.00" y2="280.51" stroke="#111" stroke-width="0.95"/>
<line x1="312.50" y1="271.30" x2="315.30" y2="271.30" stroke="#111" stroke-width="0.95"/>
<text transform="translate(327.50 273.55) scale(0.870 1)" text-anchor="end" font-size="6.20" fill="#111" stroke="#111">12.0</text>
<line x1="312.50" y1="262.09" x2="314.00" y2="262.09" stroke="#111" stroke-width="0.95"/>
<line x1="312.50" y1="252.88" x2="315.30" y2="252.88" stroke="#111" stroke-width="0.95"/>
<text transform="translate(327.50 255.13) scale(0.870 1)" text-anchor="end" font-size="6.20" fill="#111" stroke="#111">14.0</text>
<line x1="312.50" y1="243.67" x2="314.00" y2="243.67" stroke="#111" stroke-width="0.95"/>
<line x1="312.50" y1="234.46" x2="315.30" y2="234.46" stroke="#111" stroke-width="0.95"/>
<text transform="translate(327.50 236.71) scale(0.870 1)" text-anchor="end" font-size="6.20" fill="#111" stroke="#111">16.0</text>
<line x1="312.50" y1="225.25" x2="314.00" y2="225.25" stroke="#111" stroke-width="0.95"/>
<line x1="312.50" y1="216.04" x2="315.30" y2="216.04" stroke="#111" stroke-width="0.95"/>
<text transform="translate(327.50 218.29) scale(0.870 1)" text-anchor="end" font-size="6.20" fill="#111" stroke="#111">18.0</text>
<text transform="translate(5.70 289.05) rotate(-90)" text-anchor="middle" font-weight="bold" font-size="5.10" fill="#111" stroke="#111">HIV/AIDS Report Cases</text>
<text transform="translate(309.30 288.75) rotate(-90)" text-anchor="middle" font-size="7.00" fill="#444" stroke="#444">Baidu Index</text>
<text transform="translate(335.80 283.25) rotate(-90)" text-anchor="middle" font-size="7.00" fill="#111" stroke="#111">Ratio</text>
<text x="1.20" y="203.40" font-weight="bold" font-size="8.40" fill="#111" stroke="#111">(1c)</text>
<line x1="38.20" y1="220.30" x2="47.30" y2="220.30" stroke="#484848" stroke-width="0.91"/>
<text x="50.10" y="221.85" font-size="5.32" fill="#222" stroke="#222">BDI of Thrush</text>
<line x1="38.20" y1="229.10" x2="47.30" y2="229.10" stroke="#333" stroke-width="1.05"/>
<text x="50.10" y="230.65" font-size="5.32" fill="#222" stroke="#222">Mounthly case counts</text>
<line x1="39.00" y1="238.00" x2="47.30" y2="238.00" stroke="#3e3e3e" stroke-width="0.82" stroke-dasharray="2.7 2.3"/>
<text x="50.10" y="239.55" font-size="5.32" fill="#222" stroke="#222">Relitive ratio</text>
<line x1="385.07" y1="214.60" x2="385.07" y2="362.10" stroke="#d4d4d4" stroke-width="0.60" stroke-dasharray="1.1 1.1"/>
<line x1="395.80" y1="214.60" x2="395.80" y2="362.10" stroke="#d4d4d4" stroke-width="0.60" stroke-dasharray="1.1 1.1"/>
<line x1="406.65" y1="214.60" x2="406.65" y2="362.10" stroke="#d4d4d4" stroke-width="0.60" stroke-dasharray="1.1 1.1"/>
<line x1="417.50" y1="214.60" x2="417.50" y2="362.10" stroke="#b2b2b2" stroke-width="0.70" stroke-dasharray="1.5 1.5"/>
<line x1="428.36" y1="214.60" x2="428.36" y2="362.10" stroke="#d4d4d4" stroke-width="0.60" stroke-dasharray="1.1 1.1"/>
<line x1="439.34" y1="214.60" x2="439.34" y2="362.10" stroke="#d4d4d4" stroke-width="0.60" stroke-dasharray="1.1 1.1"/>
<line x1="450.45" y1="214.60" x2="450.45" y2="362.10" stroke="#d4d4d4" stroke-width="0.60" stroke-dasharray="1.1 1.1"/>
<line x1="461.55" y1="214.60" x2="461.55" y2="362.10" stroke="#b2b2b2" stroke-width="0.70" stroke-dasharray="1.5 1.5"/>
<line x1="472.24" y1="214.60" x2="472.24" y2="362.10" stroke="#d4d4d4" stroke-width="0.60" stroke-dasharray="1.1 1.1"/>
<line x1="483.05" y1="214.60" x2="483.05" y2="362.10" stroke="#d4d4d4" stroke-width="0.60" stroke-dasharray="1.1 1.1"/>
<line x1="493.97" y1="214.60" x2="493.97" y2="362.10" stroke="#d4d4d4" stroke-width="0.60" stroke-dasharray="1.1 1.1"/>
<line x1="504.90" y1="214.60" x2="504.90" y2="362.10" stroke="#b2b2b2" stroke-width="0.70" stroke-dasharray="1.5 1.5"/>
<line x1="515.61" y1="214.60" x2="515.61" y2="362.10" stroke="#d4d4d4" stroke-width="0.60" stroke-dasharray="1.1 1.1"/>
<line x1="526.45" y1="214.60" x2="526.45" y2="362.10" stroke="#d4d4d4" stroke-width="0.60" stroke-dasharray="1.1 1.1"/>
<line x1="537.40" y1="214.60" x2="537.40" y2="362.10" stroke="#d4d4d4" stroke-width="0.60" stroke-dasharray="1.1 1.1"/>
<line x1="548.35" y1="214.60" x2="548.35" y2="362.10" stroke="#b2b2b2" stroke-width="0.70" stroke-dasharray="1.5 1.5"/>
<line x1="559.14" y1="214.60" x2="559.14" y2="362.10" stroke="#d4d4d4" stroke-width="0.60" stroke-dasharray="1.1 1.1"/>
<line x1="570.05" y1="214.60" x2="570.05" y2="362.10" stroke="#d4d4d4" stroke-width="0.60" stroke-dasharray="1.1 1.1"/>
<line x1="581.07" y1="214.60" x2="581.07" y2="362.10" stroke="#d4d4d4" stroke-width="0.60" stroke-dasharray="1.1 1.1"/>
<line x1="592.10" y1="214.60" x2="592.10" y2="362.10" stroke="#b2b2b2" stroke-width="0.70" stroke-dasharray="1.5 1.5"/>
<line x1="602.83" y1="214.60" x2="602.83" y2="362.10" stroke="#d4d4d4" stroke-width="0.60" stroke-dasharray="1.1 1.1"/>
<line x1="613.67" y1="214.60" x2="613.67" y2="362.10" stroke="#d4d4d4" stroke-width="0.60" stroke-dasharray="1.1 1.1"/>
<line x1="624.64" y1="214.60" x2="624.64" y2="362.10" stroke="#d4d4d4" stroke-width="0.60" stroke-dasharray="1.1 1.1"/>
<path d="M374.45 297.00C375.06 297.00 375.67 302.87 376.28 296.00C376.40 294.63 376.52 288.84 376.64 285.00C376.74 281.93 376.84 273.77 376.94 272.00C377.18 267.59 377.42 268.65 377.67 268.60C377.81 268.57 377.96 268.83 378.11 269.50C378.27 270.25 378.44 273.81 378.60 276.00C379.54 288.43 380.47 340.80 381.41 349.00C382.63 359.68 383.85 358.18 385.07 358.30C386.24 358.42 387.42 354.07 388.60 351.20C389.82 348.23 391.04 336.13 392.26 336.20C393.44 336.27 394.62 349.44 395.80 351.20C397.02 353.02 398.24 353.95 399.45 353.40C400.67 352.85 401.89 346.42 403.11 343.50C404.29 340.67 405.47 332.63 406.65 333.10C407.87 333.59 409.09 350.43 410.31 351.20C411.48 351.95 412.66 347.41 413.84 344.60C415.06 341.70 416.28 329.55 417.50 329.20C418.75 328.84 419.99 339.55 421.24 340.20C422.37 340.79 423.49 339.84 424.62 339.10C425.87 338.28 427.11 332.31 428.36 332.50C429.57 332.69 430.78 341.11 431.98 341.30C433.23 341.49 434.48 334.18 435.72 334.70C436.93 335.21 438.14 346.00 439.34 347.90C440.59 349.87 441.84 352.13 443.09 351.20C444.33 350.26 445.58 339.31 446.83 334.70C448.03 330.24 449.24 319.12 450.45 319.20C451.69 319.28 452.94 335.83 454.19 336.90C455.40 337.94 456.60 334.64 457.81 334.70C459.06 334.77 460.30 338.73 461.55 338.00C462.78 337.28 464.00 323.50 465.23 324.70C466.34 325.78 467.45 347.55 468.56 350.10C469.78 352.93 471.01 351.17 472.24 352.30C473.43 353.39 474.61 359.79 475.80 359.00C477.03 358.19 478.26 340.27 479.48 340.20C480.67 340.13 481.86 356.20 483.05 356.80C484.27 357.41 485.50 349.81 486.73 347.90C487.96 345.99 489.18 342.94 490.41 342.80C491.60 342.66 492.79 345.20 493.97 345.70C495.20 346.22 496.43 347.58 497.66 346.80C498.84 346.05 500.03 335.50 501.22 335.30C502.45 335.09 503.67 344.79 504.90 344.60C506.13 344.40 507.36 331.86 508.59 332.50C509.70 333.08 510.81 347.33 511.92 350.10C513.15 353.17 514.38 355.56 515.61 355.70C516.80 355.83 517.99 353.38 519.18 352.30C520.42 351.19 521.65 347.71 522.88 347.90C524.07 348.09 525.26 354.64 526.45 354.60C527.68 354.55 528.91 348.24 530.14 346.80C531.37 345.36 532.60 344.51 533.83 343.50C535.02 342.53 536.21 339.77 537.40 339.80C538.63 339.83 539.86 344.49 541.09 344.20C542.28 343.92 543.47 336.09 544.66 336.20C545.89 336.32 547.12 347.38 548.35 346.40C549.59 345.41 550.83 321.88 552.07 322.10C553.18 322.30 554.30 340.61 555.42 344.60C556.66 349.01 557.90 353.62 559.14 353.90C560.34 354.17 561.53 349.68 562.73 349.00C563.97 348.30 565.21 347.65 566.45 347.90C567.65 348.14 568.85 352.58 570.05 352.30C571.28 352.01 572.52 343.92 573.76 343.50C575.00 343.08 576.24 346.82 577.48 346.40C578.68 345.99 579.87 338.28 581.07 338.00C582.31 337.71 583.55 342.90 584.79 342.80C585.99 342.70 587.19 336.48 588.38 336.90C589.62 337.34 590.86 349.62 592.10 349.50C593.33 349.38 594.56 334.39 595.79 335.30C596.91 336.12 598.02 357.32 599.13 357.90C600.36 358.55 601.59 339.80 602.83 339.80C604.02 339.80 605.21 355.99 606.40 356.80C607.63 357.63 608.86 350.33 610.10 350.60C611.29 350.87 612.48 359.64 613.67 360.10C614.90 360.58 616.13 357.89 617.37 356.80C618.60 355.71 619.83 353.87 621.06 352.30C622.25 350.78 623.44 345.83 624.64 345.70C625.87 345.56 627.10 350.46 628.33 350.80C629.52 351.13 630.71 350.77 631.91 350.60" fill="none" stroke="#3e3e3e" stroke-width="0.82" stroke-dasharray="2.3 2" stroke-linejoin="round"/>
<path d="M374.45 300.70C375.67 304.00 376.89 306.78 378.11 306.20C379.21 305.68 380.31 292.03 381.41 291.80C382.63 291.54 383.85 303.98 385.07 304.00C386.24 304.02 387.42 294.94 388.60 292.90C389.82 290.79 391.04 283.63 392.26 283.20C393.44 282.78 394.62 283.96 395.80 284.10C397.02 284.25 398.24 284.32 399.45 284.70C400.67 285.08 401.89 289.80 403.11 289.60C404.29 289.41 405.47 281.14 406.65 281.20C407.87 281.26 409.09 291.80 410.31 291.40C411.48 291.02 412.66 274.40 413.84 274.30C415.06 274.20 416.28 290.04 417.50 290.50C418.75 290.97 419.99 285.22 421.24 283.00C422.37 280.99 423.49 269.91 424.62 268.60C425.87 267.15 427.11 265.94 428.36 265.80C429.57 265.67 430.78 265.88 431.98 265.80C433.23 265.72 434.48 263.90 435.72 264.20C436.93 264.49 438.14 270.61 439.34 271.50C440.59 272.41 441.84 274.40 443.09 274.20C444.33 274.00 445.58 268.28 446.83 267.50C448.03 266.74 449.24 265.04 450.45 265.30C451.69 265.57 452.94 272.89 454.19 273.10C455.40 273.30 456.60 269.71 457.81 269.70C459.06 269.69 460.30 271.80 461.55 273.10C462.78 274.38 464.00 284.73 465.23 284.80C466.34 284.86 467.45 277.26 468.56 276.40C469.78 275.45 471.01 274.13 472.24 274.20C473.43 274.26 474.61 277.33 475.80 277.50C477.03 277.67 478.26 277.50 479.48 277.50C480.67 277.50 481.86 277.80 483.05 277.50C484.27 277.20 485.50 271.56 486.73 271.30C487.96 271.05 489.18 271.77 490.41 272.40C491.60 273.01 492.79 279.64 493.97 279.70C495.20 279.76 496.43 274.66 497.66 273.10C498.84 271.59 500.03 264.45 501.22 264.20C502.45 263.94 503.67 267.35 504.90 268.50C506.13 269.65 507.36 276.24 508.59 276.20C509.70 276.16 510.81 269.57 511.92 269.20C513.15 268.79 514.38 269.27 515.61 269.20C516.80 269.13 517.99 267.76 519.18 267.80C520.42 267.84 521.65 270.42 522.88 270.10C524.07 269.79 525.26 263.18 526.45 261.90C527.68 260.58 528.91 257.36 530.14 256.80C531.37 256.24 532.60 255.30 533.83 255.30C535.02 255.30 536.21 256.13 537.40 256.80C538.63 257.49 539.86 265.02 541.09 264.10C542.28 263.21 543.47 240.45 544.66 239.80C545.89 239.12 547.12 249.65 548.35 252.00C549.59 254.37 550.83 263.78 552.07 263.40C553.18 263.05 554.30 248.07 555.42 247.50C556.66 246.87 557.90 253.72 559.14 253.70C560.34 253.68 561.53 247.39 562.73 247.50C563.97 247.61 565.21 256.66 566.45 256.40C567.65 256.15 568.85 243.87 570.05 243.10C571.28 242.30 572.52 242.25 573.76 242.70C575.00 243.15 576.24 251.75 577.48 252.00C578.68 252.24 579.87 248.07 581.07 248.00C582.31 247.93 583.55 251.82 584.79 250.80C585.99 249.82 587.19 228.87 588.38 228.80C589.62 228.73 590.86 247.23 592.10 250.80C593.33 254.35 594.56 265.55 595.79 265.20C596.91 264.89 598.02 251.72 599.13 247.50C600.36 242.83 601.59 219.03 602.83 219.30C604.02 219.56 605.21 248.22 606.40 250.80C607.63 253.47 608.86 254.58 610.10 255.30C611.29 256.00 612.48 258.41 613.67 258.10C614.90 257.78 616.13 248.88 617.37 248.60C618.60 248.31 619.83 251.81 621.06 252.40C622.25 252.97 623.44 254.64 624.64 254.60C625.87 254.56 627.10 251.70 628.33 251.50C629.52 251.30 630.71 251.30 631.91 251.30" fill="none" stroke="#484848" stroke-width="0.66" stroke-linejoin="round"/>
<path d="M374.45 321.53C375.67 339.69 376.89 346.23 378.11 344.96C379.21 343.81 380.31 315.45 381.41 312.73C382.63 309.73 383.85 314.56 385.07 314.21C386.24 313.88 387.42 308.76 388.60 308.89C389.82 309.03 391.04 316.76 392.26 316.28C393.44 315.82 394.62 304.84 395.80 303.94C397.02 303.01 398.24 304.14 399.45 305.79C400.67 307.44 401.89 316.47 403.11 317.39C404.29 318.28 405.47 317.76 406.65 317.02C407.87 316.26 409.09 311.65 410.31 309.63C411.48 307.68 412.66 303.32 413.84 304.83C415.06 306.39 416.28 328.47 417.50 328.99C418.75 329.53 419.99 313.80 421.24 310.22C422.37 306.99 423.49 304.90 424.62 304.61C425.87 304.28 427.11 307.68 428.36 307.41C429.57 307.16 430.78 301.97 431.98 301.80C433.23 301.61 434.48 305.83 435.72 305.57C436.93 305.31 438.14 299.55 439.34 298.99C440.59 298.41 441.84 298.13 443.09 298.99C444.33 299.85 445.58 306.17 446.83 309.34C448.03 312.39 449.24 317.71 450.45 317.76C451.69 317.81 452.94 310.40 454.19 309.34C455.40 308.30 456.60 308.46 457.81 308.37C459.06 308.29 460.30 307.01 461.55 308.37C462.78 309.72 464.00 325.53 465.23 324.34C466.34 323.26 467.45 301.14 468.56 298.99C469.78 296.61 471.01 300.45 472.24 299.95C473.43 299.47 474.61 292.66 475.80 293.37C477.03 294.11 478.26 309.35 479.48 309.34C480.67 309.32 481.86 295.46 483.05 294.26C484.27 293.02 485.50 294.15 486.73 295.22C487.96 296.29 489.18 301.74 490.41 303.65C491.60 305.49 492.79 307.39 493.97 307.41C495.20 307.43 496.43 303.71 497.66 303.65C498.84 303.58 500.03 306.70 501.22 306.45C502.45 306.20 503.67 299.73 504.90 300.39C506.13 301.06 507.36 315.34 508.59 314.43C509.70 313.61 510.81 296.17 511.92 293.59C513.15 290.74 514.38 291.63 515.61 291.45C516.80 291.28 517.99 290.85 519.18 291.45C520.42 292.08 521.65 299.63 522.88 299.06C524.07 298.52 525.26 286.11 526.45 285.47C527.68 284.80 528.91 291.14 530.14 291.82C531.37 292.50 532.60 291.63 533.83 292.19C535.02 292.73 536.21 295.96 537.40 296.92C538.63 297.91 539.86 299.07 541.09 298.69C542.28 298.33 543.47 294.41 544.66 292.71C545.89 290.94 547.12 286.49 548.35 288.20C549.59 289.93 550.83 314.27 552.07 313.55C553.18 312.90 554.30 289.56 555.42 285.47C556.66 280.93 557.90 280.92 559.14 280.59C560.34 280.26 561.53 280.43 562.73 281.33C563.97 282.26 565.21 289.72 566.45 289.09C567.65 288.48 568.85 274.89 570.05 274.60C571.28 274.30 572.52 284.78 573.76 286.43C575.00 288.07 576.24 287.03 577.48 288.20C578.68 289.33 579.87 294.26 581.07 294.56C582.31 294.86 583.55 293.03 584.79 291.45C585.99 289.93 587.19 284.87 588.38 284.58C589.62 284.27 590.86 285.29 592.10 288.20C593.33 291.10 594.56 309.07 595.79 307.19C596.91 305.49 598.02 275.20 599.13 272.31C600.36 269.11 601.59 274.20 602.83 274.60C604.02 274.99 605.21 274.00 606.40 275.19C607.63 276.43 608.86 287.35 610.10 287.31C611.29 287.28 612.48 277.65 613.67 275.56C614.90 273.41 616.13 272.01 617.37 272.31C618.60 272.61 619.83 276.06 621.06 279.18C622.25 282.21 623.44 291.17 624.64 291.45C625.87 291.74 627.10 282.55 628.33 281.84C629.52 281.16 630.71 281.84 631.91 282.81" fill="none" stroke="#111" stroke-width="0.95" stroke-linejoin="round"/>
<line x1="374.45" y1="213.90" x2="374.45" y2="362.60" stroke="#111" stroke-width="1.00"/>
<line x1="373.95" y1="362.10" x2="635.60" y2="362.10" stroke="#111" stroke-width="1.00"/>
<line x1="372.95" y1="362.10" x2="374.45" y2="362.10" stroke="#111" stroke-width="0.95"/>
<line x1="372.95" y1="354.71" x2="374.45" y2="354.71" stroke="#111" stroke-width="0.95"/>
<line x1="371.45" y1="347.32" x2="374.45" y2="347.32" stroke="#111" stroke-width="0.95"/>
<text transform="translate(368.85 349.47) scale(0.870 1)" text-anchor="end" font-size="6.10" fill="#111" stroke="#111">2.0k</text>
<line x1="372.95" y1="339.93" x2="374.45" y2="339.93" stroke="#111" stroke-width="0.95"/>
<line x1="371.45" y1="332.54" x2="374.45" y2="332.54" stroke="#111" stroke-width="0.95"/>
<text transform="translate(368.85 334.69) scale(0.870 1)" text-anchor="end" font-size="6.10" fill="#111" stroke="#111">4.0k</text>
<line x1="372.95" y1="325.15" x2="374.45" y2="325.15" stroke="#111" stroke-width="0.95"/>
<line x1="371.45" y1="317.76" x2="374.45" y2="317.76" stroke="#111" stroke-width="0.95"/>
<text transform="translate(368.85 319.91) scale(0.870 1)" text-anchor="end" font-size="6.10" fill="#111" stroke="#111">6.0k</text>
<line x1="372.95" y1="310.37" x2="374.45" y2="310.37" stroke="#111" stroke-width="0.95"/>
<line x1="371.45" y1="302.98" x2="374.45" y2="302.98" stroke="#111" stroke-width="0.95"/>
<text transform="translate(368.85 305.13) scale(0.870 1)" text-anchor="end" font-size="6.10" fill="#111" stroke="#111">8.0k</text>
<line x1="372.95" y1="295.59" x2="374.45" y2="295.59" stroke="#111" stroke-width="0.95"/>
<line x1="371.45" y1="288.20" x2="374.45" y2="288.20" stroke="#111" stroke-width="0.95"/>
<text transform="translate(368.85 290.35) scale(0.870 1)" text-anchor="end" font-size="6.10" fill="#111" stroke="#111">10.0k</text>
<line x1="372.95" y1="280.81" x2="374.45" y2="280.81" stroke="#111" stroke-width="0.95"/>
<line x1="371.45" y1="273.42" x2="374.45" y2="273.42" stroke="#111" stroke-width="0.95"/>
<text transform="translate(368.85 275.57) scale(0.870 1)" text-anchor="end" font-size="6.10" fill="#111" stroke="#111">12.0k</text>
<line x1="372.95" y1="266.03" x2="374.45" y2="266.03" stroke="#111" stroke-width="0.95"/>
<line x1="371.45" y1="258.64" x2="374.45" y2="258.64" stroke="#111" stroke-width="0.95"/>
<text transform="translate(368.85 260.79) scale(0.870 1)" text-anchor="end" font-size="6.10" fill="#111" stroke="#111">14.0k</text>
<line x1="372.95" y1="251.25" x2="374.45" y2="251.25" stroke="#111" stroke-width="0.95"/>
<line x1="371.45" y1="243.86" x2="374.45" y2="243.86" stroke="#111" stroke-width="0.95"/>
<text transform="translate(368.85 246.01) scale(0.870 1)" text-anchor="end" font-size="6.10" fill="#111" stroke="#111">16.0k</text>
<line x1="372.95" y1="236.47" x2="374.45" y2="236.47" stroke="#111" stroke-width="0.95"/>
<line x1="371.45" y1="229.08" x2="374.45" y2="229.08" stroke="#111" stroke-width="0.95"/>
<text transform="translate(368.85 231.23) scale(0.870 1)" text-anchor="end" font-size="6.10" fill="#111" stroke="#111">18.0k</text>
<line x1="372.95" y1="221.69" x2="374.45" y2="221.69" stroke="#111" stroke-width="0.95"/>
<line x1="371.45" y1="214.30" x2="374.45" y2="214.30" stroke="#111" stroke-width="0.95"/>
<text transform="translate(368.85 216.45) scale(0.870 1)" text-anchor="end" font-size="6.10" fill="#111" stroke="#111">20.0k</text>
<line x1="374.45" y1="362.10" x2="374.45" y2="365.10" stroke="#111" stroke-width="0.95"/>
<text transform="translate(374.45 373.00) scale(0.870 1)" text-anchor="middle" class="s" font-size="6.20" fill="#111" stroke="#111">2011/1/1</text>
<line x1="385.07" y1="362.10" x2="385.07" y2="363.60" stroke="#111" stroke-width="0.95"/>
<line x1="395.80" y1="362.10" x2="395.80" y2="363.60" stroke="#111" stroke-width="0.95"/>
<line x1="406.65" y1="362.10" x2="406.65" y2="363.60" stroke="#111" stroke-width="0.95"/>
<line x1="417.50" y1="362.10" x2="417.50" y2="365.10" stroke="#111" stroke-width="0.95"/>
<text transform="translate(417.50 373.00) scale(0.870 1)" text-anchor="middle" class="s" font-size="6.20" fill="#111" stroke="#111">2012/1/1</text>
<line x1="428.36" y1="362.10" x2="428.36" y2="363.60" stroke="#111" stroke-width="0.95"/>
<line x1="439.34" y1="362.10" x2="439.34" y2="363.60" stroke="#111" stroke-width="0.95"/>
<line x1="450.45" y1="362.10" x2="450.45" y2="363.60" stroke="#111" stroke-width="0.95"/>
<line x1="461.55" y1="362.10" x2="461.55" y2="365.10" stroke="#111" stroke-width="0.95"/>
<text transform="translate(461.55 373.00) scale(0.870 1)" text-anchor="middle" class="s" font-size="6.20" fill="#111" stroke="#111">2013/1/1</text>
<line x1="472.24" y1="362.10" x2="472.24" y2="363.60" stroke="#111" stroke-width="0.95"/>
<line x1="483.05" y1="362.10" x2="483.05" y2="363.60" stroke="#111" stroke-width="0.95"/>
<line x1="493.97" y1="362.10" x2="493.97" y2="363.60" stroke="#111" stroke-width="0.95"/>
<line x1="504.90" y1="362.10" x2="504.90" y2="365.10" stroke="#111" stroke-width="0.95"/>
<text transform="translate(504.90 373.00) scale(0.870 1)" text-anchor="middle" class="s" font-size="6.20" fill="#111" stroke="#111">2014/1/1</text>
<line x1="515.61" y1="362.10" x2="515.61" y2="363.60" stroke="#111" stroke-width="0.95"/>
<line x1="526.45" y1="362.10" x2="526.45" y2="363.60" stroke="#111" stroke-width="0.95"/>
<line x1="537.40" y1="362.10" x2="537.40" y2="363.60" stroke="#111" stroke-width="0.95"/>
<line x1="548.35" y1="362.10" x2="548.35" y2="365.10" stroke="#111" stroke-width="0.95"/>
<text transform="translate(548.35 373.00) scale(0.870 1)" text-anchor="middle" class="s" font-size="6.20" fill="#111" stroke="#111">2015/1/1</text>
<line x1="559.14" y1="362.10" x2="559.14" y2="363.60" stroke="#111" stroke-width="0.95"/>
<line x1="570.05" y1="362.10" x2="570.05" y2="363.60" stroke="#111" stroke-width="0.95"/>
<line x1="581.07" y1="362.10" x2="581.07" y2="363.60" stroke="#111" stroke-width="0.95"/>
<line x1="592.10" y1="362.10" x2="592.10" y2="365.10" stroke="#111" stroke-width="0.95"/>
<text transform="translate(592.10 373.00) scale(0.870 1)" text-anchor="middle" class="s" font-size="6.20" fill="#111" stroke="#111">2016/1/1</text>
<line x1="602.83" y1="362.10" x2="602.83" y2="363.60" stroke="#111" stroke-width="0.95"/>
<line x1="613.67" y1="362.10" x2="613.67" y2="363.60" stroke="#111" stroke-width="0.95"/>
<line x1="624.64" y1="362.10" x2="624.64" y2="363.60" stroke="#111" stroke-width="0.95"/>
<line x1="635.60" y1="362.10" x2="635.60" y2="365.10" stroke="#111" stroke-width="0.95"/>
<text transform="translate(635.60 373.00) scale(0.870 1)" text-anchor="middle" class="s" font-size="6.20" fill="#111" stroke="#111">2017/1/1</text>
<text x="504.80" y="384.00" text-anchor="middle" class="s" font-size="6.00" fill="#111" stroke="#111">Date</text>
<line x1="635.70" y1="213.90" x2="635.70" y2="362.50" stroke="#8c8c8c" stroke-width="1.20"/>
<line x1="635.70" y1="362.10" x2="638.30" y2="362.10" stroke="#777" stroke-width="0.80"/>
<text transform="translate(640.70 364.25) scale(0.870 1)" font-size="6.10" fill="#888" stroke="#888"></text>
<line x1="635.70" y1="351.54" x2="637.20" y2="351.54" stroke="#777" stroke-width="0.80"/>
<line x1="635.70" y1="340.98" x2="638.30" y2="340.98" stroke="#777" stroke-width="0.80"/>
<text transform="translate(640.70 343.13) scale(0.870 1)" font-size="6.10" fill="#888" stroke="#888">1.0k</text>
<line x1="635.70" y1="330.42" x2="637.20" y2="330.42" stroke="#777" stroke-width="0.80"/>
<line x1="635.70" y1="319.86" x2="638.30" y2="319.86" stroke="#777" stroke-width="0.80"/>
<text transform="translate(640.70 322.01) scale(0.870 1)" font-size="6.10" fill="#888" stroke="#888">2.0k</text>
<line x1="635.70" y1="309.30" x2="637.20" y2="309.30" stroke="#777" stroke-width="0.80"/>
<line x1="635.70" y1="298.74" x2="638.30" y2="298.74" stroke="#777" stroke-width="0.80"/>
<text transform="translate(640.70 300.89) scale(0.870 1)" font-size="6.10" fill="#888" stroke="#888">3.0k</text>
<line x1="635.70" y1="288.18" x2="637.20" y2="288.18" stroke="#777" stroke-width="0.80"/>
<line x1="635.70" y1="277.62" x2="638.30" y2="277.62" stroke="#777" stroke-width="0.80"/>
<text transform="translate(640.70 279.77) scale(0.870 1)" font-size="6.10" fill="#888" stroke="#888">4.0k</text>
<line x1="635.70" y1="267.06" x2="637.20" y2="267.06" stroke="#777" stroke-width="0.80"/>
<line x1="635.70" y1="256.50" x2="638.30" y2="256.50" stroke="#777" stroke-width="0.80"/>
<text transform="translate(640.70 258.65) scale(0.870 1)" font-size="6.10" fill="#888" stroke="#888">5.0k</text>
<line x1="635.70" y1="245.94" x2="637.20" y2="245.94" stroke="#777" stroke-width="0.80"/>
<line x1="635.70" y1="235.38" x2="638.30" y2="235.38" stroke="#777" stroke-width="0.80"/>
<text transform="translate(640.70 237.53) scale(0.870 1)" font-size="6.10" fill="#888" stroke="#888">6.0k</text>
<line x1="635.70" y1="224.82" x2="637.20" y2="224.82" stroke="#777" stroke-width="0.80"/>
<line x1="635.70" y1="214.26" x2="638.30" y2="214.26" stroke="#777" stroke-width="0.80"/>
<text transform="translate(640.70 216.41) scale(0.870 1)" font-size="6.10" fill="#888" stroke="#888">7.0k</text>
<line x1="664.00" y1="214.42" x2="664.00" y2="363.40" stroke="#111" stroke-width="1.10"/>
<line x1="664.00" y1="362.60" x2="666.80" y2="362.60" stroke="#111" stroke-width="0.95"/>
<text transform="translate(676.20 364.85) scale(0.870 1)" text-anchor="end" font-size="6.20" fill="#111" stroke="#111">0.4</text>
<line x1="664.00" y1="349.17" x2="665.50" y2="349.17" stroke="#111" stroke-width="0.95"/>
<line x1="664.00" y1="335.74" x2="666.80" y2="335.74" stroke="#111" stroke-width="0.95"/>
<text transform="translate(676.20 337.99) scale(0.870 1)" text-anchor="end" font-size="6.20" fill="#111" stroke="#111">0.6</text>
<line x1="664.00" y1="322.31" x2="665.50" y2="322.31" stroke="#111" stroke-width="0.95"/>
<line x1="664.00" y1="308.88" x2="666.80" y2="308.88" stroke="#111" stroke-width="0.95"/>
<text transform="translate(676.20 311.13) scale(0.870 1)" text-anchor="end" font-size="6.20" fill="#111" stroke="#111">0.8</text>
<line x1="664.00" y1="295.45" x2="665.50" y2="295.45" stroke="#111" stroke-width="0.95"/>
<line x1="664.00" y1="282.02" x2="666.80" y2="282.02" stroke="#111" stroke-width="0.95"/>
<text transform="translate(676.20 284.27) scale(0.870 1)" text-anchor="end" font-size="6.20" fill="#111" stroke="#111">1.0</text>
<line x1="664.00" y1="268.59" x2="665.50" y2="268.59" stroke="#111" stroke-width="0.95"/>
<line x1="664.00" y1="255.16" x2="666.80" y2="255.16" stroke="#111" stroke-width="0.95"/>
<text transform="translate(676.20 257.41) scale(0.870 1)" text-anchor="end" font-size="6.20" fill="#111" stroke="#111">1.2</text>
<line x1="664.00" y1="241.73" x2="665.50" y2="241.73" stroke="#111" stroke-width="0.95"/>
<line x1="664.00" y1="228.30" x2="666.80" y2="228.30" stroke="#111" stroke-width="0.95"/>
<text transform="translate(676.20 230.55) scale(0.870 1)" text-anchor="end" font-size="6.20" fill="#111" stroke="#111">1.4</text>
<line x1="664.00" y1="214.87" x2="665.50" y2="214.87" stroke="#111" stroke-width="0.95"/>
<text transform="translate(353.20 287.90) rotate(-90)" text-anchor="middle" font-weight="bold" font-size="5.10" fill="#111" stroke="#111">HIV/AIDS Report Cases</text>
<text transform="translate(658.00 291.00) rotate(-90)" text-anchor="middle" font-size="7.00" fill="#444" stroke="#444">Baidu Index</text>
<text transform="translate(683.60 287.40) rotate(-90)" text-anchor="middle" font-size="7.00" fill="#111" stroke="#111">Ratio</text>
<text x="354.50" y="205.20" font-weight="bold" font-size="8.40" fill="#111" stroke="#111">(1d)</text>
<line x1="385.30" y1="221.50" x2="394.40" y2="221.50" stroke="#484848" stroke-width="0.91"/>
<text x="397.20" y="223.05" font-size="5.32" fill="#222" stroke="#222">BDI of Initial symptoms of AIDS</text>
<line x1="385.30" y1="230.50" x2="394.40" y2="230.50" stroke="#333" stroke-width="1.05"/>
<text x="397.20" y="232.05" font-size="5.32" fill="#222" stroke="#222">Mounthly case counts</text>
<line x1="386.10" y1="239.40" x2="394.40" y2="239.40" stroke="#3e3e3e" stroke-width="0.82" stroke-dasharray="2.7 2.3"/>
<text x="397.20" y="240.95" font-size="5.32" fill="#222" stroke="#222">Relitive ratio</text>
</svg></body></html>
